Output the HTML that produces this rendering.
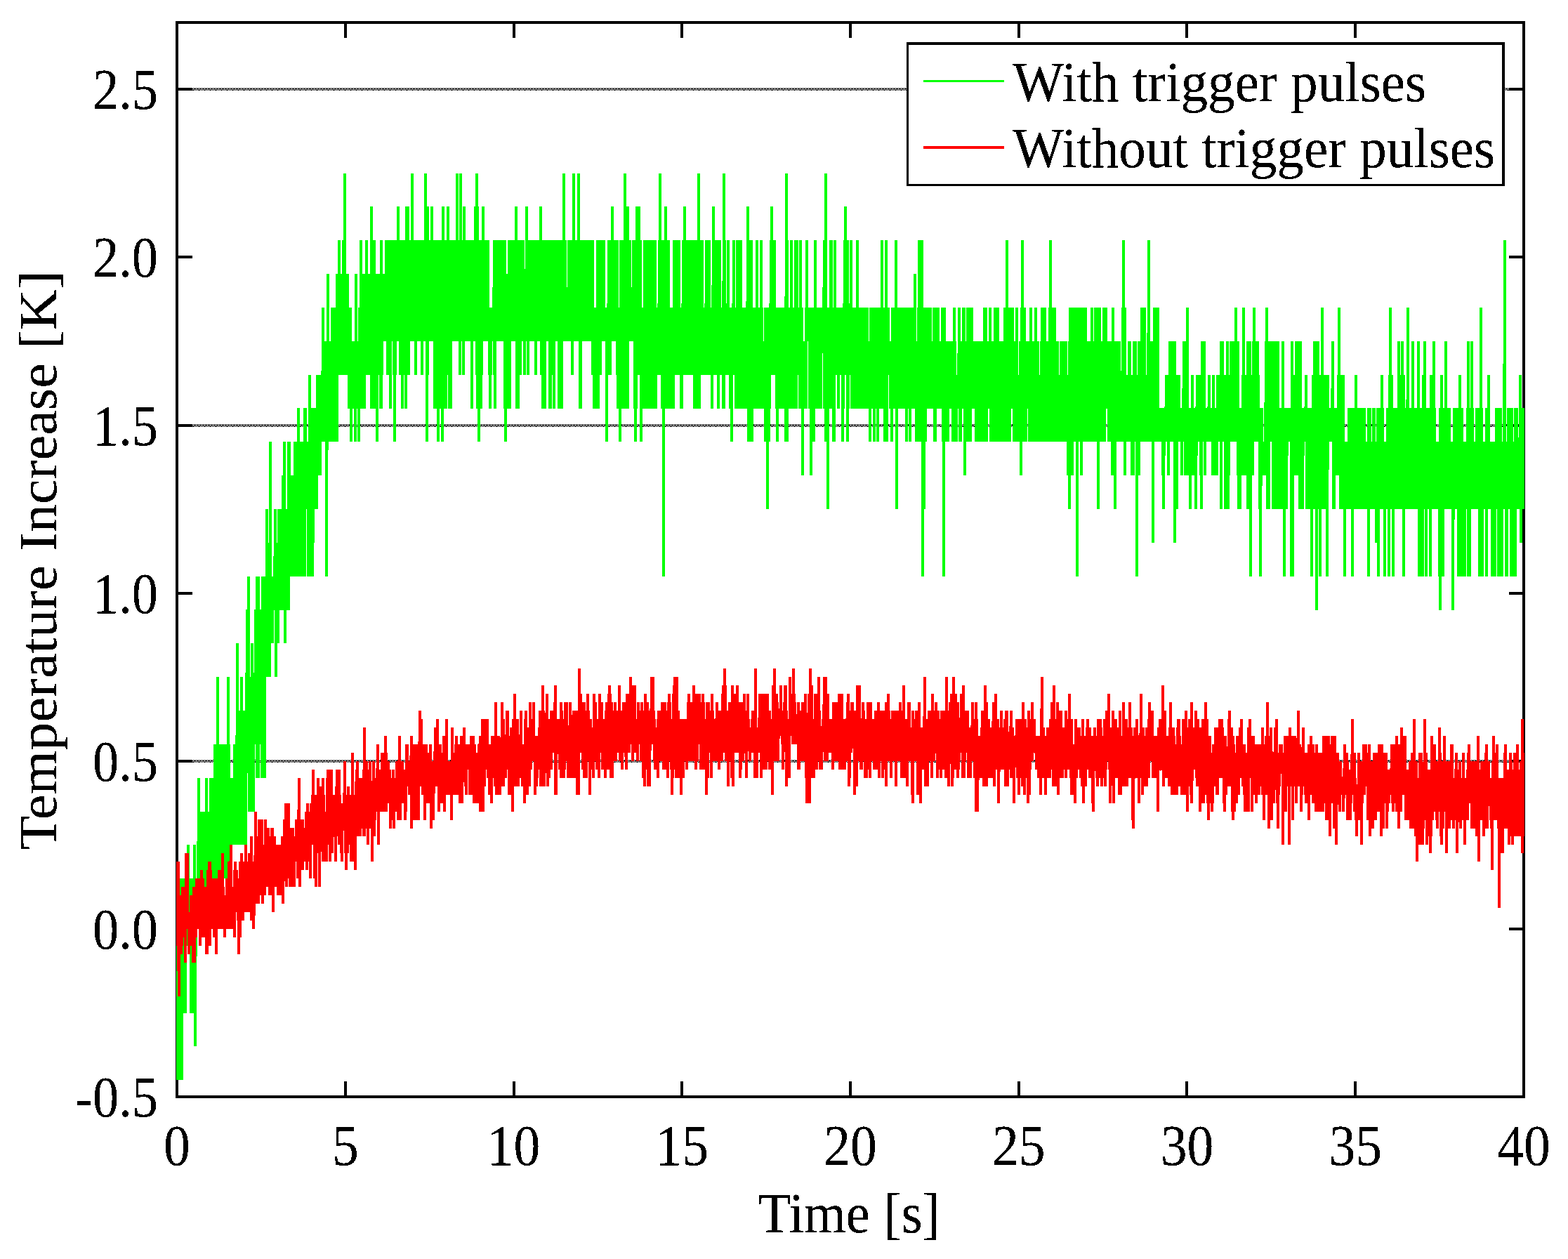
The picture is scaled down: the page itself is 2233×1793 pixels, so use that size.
<!DOCTYPE html>
<html lang="en">
<head>
<meta charset="utf-8">
<title>Temperature increase with and without trigger pulses</title>
<style>
html,body{margin:0;padding:0;background:#fff;}
body{width:2233px;height:1793px;}
svg{display:block;}
text{font-family:"Liberation Serif","DejaVu Serif",serif;font-size:80px;fill:#000;filter:url(#crisp);}
.ax{stroke:#000;stroke-width:4;fill:none;shape-rendering:crispEdges;}
.tr{fill:none;stroke-width:4;stroke-linejoin:bevel;stroke-linecap:butt;shape-rendering:crispEdges;}
</style>
</head>
<body>
<svg width="2233" height="1793" viewBox="0 0 2233 1793">
<defs>
<pattern id="dots" x="275" y="125" width="8" height="4" patternUnits="userSpaceOnUse">
<path shape-rendering="crispEdges" fill="#000" d="M0,0h1v1h-1z M2,0h1v1h-1z M4,0h1v1h-1z M6,0h1v1h-1z M1,1h3v1h-3z M5,1h3v1h-3z M0,2h1v1h-1z M2,2h1v1h-1z M4,2h1v1h-1z M6,2h1v1h-1z M0,3h2v1h-2z M3,3h1v1h-1z M5,3h1v1h-1z M7,3h1v1h-1z"/>
</pattern>
<filter id="crisp" x="-5%" y="-5%" width="110%" height="110%" color-interpolation-filters="sRGB"><feComponentTransfer><feFuncA type="discrete" tableValues="0 0 1 1 1"/></feComponentTransfer></filter>
<clipPath id="plotclip"><rect x="251" y="34" width="1920" height="1526"/></clipPath>
</defs>
<rect x="0" y="0" width="2233" height="1793" fill="#fff"/>
<g id="grid">
<g transform="translate(0,0)"><rect x="274" y="125" width="1875" height="4" fill="url(#dots)" shape-rendering="crispEdges"/></g>
<g transform="translate(0,479)"><rect x="274" y="125" width="1875" height="4" fill="url(#dots)" shape-rendering="crispEdges"/></g>
<g transform="translate(0,957)"><rect x="274" y="125" width="1875" height="4" fill="url(#dots)" shape-rendering="crispEdges"/></g>
</g>
<g id="axes" class="ax">
<rect x="252" y="32" width="1918" height="1530"/>
<path d="M254,127 H274 M2149,127 H2168 M254,366 H274 M2149,366 H2168 M254,606 H274 M2149,606 H2168 M254,845 H274 M2149,845 H2168 M254,1084 H274 M2149,1084 H2168 M254,1323 H274 M2149,1323 H2168 M492,34 V54 M492,1540 V1560 M732,34 V54 M732,1540 V1560 M971,34 V54 M971,1540 V1560 M1211,34 V54 M1211,1540 V1560 M1451,34 V54 M1451,1540 V1560 M1690,34 V54 M1690,1540 V1560 M1930,34 V54 M1930,1540 V1560"/>
</g>
<g id="traces" clip-path="url(#plotclip)">
<polyline id="with-trigger" class="tr" stroke="#00ff00" points="250.8,1251.2 251.2,1538.3 251.8,1251.2 252.2,1538.3 252.8,1251.2 253.2,1538.3 253.8,1251.2 254.2,1538.3 254.8,1251.2 255.2,1538.3 255.8,1251.2 256.2,1538.3 256.8,1251.2 257.2,1538.3 257.8,1251.2 258.2,1538.3 258.8,1251.2 259.2,1538.3 259.8,1251.2 260.2,1442.6 260.8,1251.2 261.2,1442.6 261.8,1251.2 262.2,1442.6 262.8,1251.2 263.2,1442.6 263.8,1251.2 264.2,1442.6 264.8,1251.2 265.2,1346.9 265.8,1251.2 266.2,1346.9 266.8,1251.2 267.2,1346.9 267.8,1203.4 268.2,1346.9 268.8,1251.2 269.2,1346.9 269.8,1251.2 270.2,1346.9 270.8,1251.2 271.2,1346.9 271.8,1251.2 272.2,1442.6 272.8,1251.2 273.2,1442.6 273.8,1251.2 274.2,1442.6 274.8,1251.2 275.2,1442.6 275.8,1251.2 276.2,1442.6 276.8,1203.4 277.2,1442.6 277.8,1251.2 278.2,1490.4 278.8,1251.2 279.2,1299.1 279.8,1251.2 280.2,1299.1 280.8,1251.2 281.2,1299.1 281.8,1251.2 282.2,1299.1 282.8,1107.7 283.2,1299.1 283.8,1155.6 284.2,1299.1 284.8,1155.6 285.2,1299.1 285.8,1155.6 286.2,1299.1 286.8,1155.6 287.2,1299.1 287.8,1155.6 288.2,1299.1 288.8,1155.6 289.2,1299.1 289.8,1155.6 290.2,1299.1 290.8,1155.6 291.2,1299.1 291.8,1155.6 292.2,1299.1 292.8,1155.6 293.2,1299.1 293.8,1107.7 294.2,1299.1 294.8,1155.6 295.2,1299.1 295.8,1155.6 296.2,1299.1 296.8,1155.6 297.2,1299.1 297.8,1155.6 298.2,1299.1 298.8,1155.6 299.2,1251.2 299.8,1107.7 300.2,1251.2 300.8,1107.7 301.2,1251.2 301.8,1107.7 302.2,1251.2 302.8,1107.7 303.2,1251.2 303.8,1107.7 304.2,1251.2 304.8,1107.7 305.2,1251.2 305.8,1059.9 306.2,1251.2 306.8,1059.9 307.2,1251.2 307.8,1059.9 308.2,1251.2 308.8,1059.9 309.2,1251.2 309.8,964.2 310.2,1251.2 310.8,1059.9 311.2,1251.2 311.8,1059.9 312.2,1251.2 312.8,1059.9 313.2,1251.2 313.8,1059.9 314.2,1251.2 314.8,1059.9 315.2,1251.2 315.8,1059.9 316.2,1251.2 316.8,1059.9 317.2,1251.2 317.8,1059.9 318.2,1251.2 318.8,1059.9 319.2,1251.2 319.8,1059.9 320.2,1251.2 320.8,1059.9 321.2,1251.2 321.8,1059.9 322.2,1251.2 322.8,1059.9 323.2,1251.2 323.8,1059.9 324.2,1251.2 324.8,964.2 325.2,1251.2 325.8,1059.9 326.2,1251.2 326.8,1107.7 327.2,1251.2 327.8,1107.7 328.2,1251.2 328.8,1107.7 329.2,1203.4 329.8,1107.7 330.2,1203.4 330.8,1107.7 331.2,1203.4 331.8,1107.7 332.2,1203.4 332.8,1107.7 333.2,1203.4 333.8,1059.9 334.2,1203.4 334.8,1059.9 335.2,1203.4 335.8,1059.9 336.2,1203.4 336.8,1059.9 337.2,1203.4 337.8,916.4 338.2,1203.4 338.8,1012 339.2,1203.4 339.8,1012 340.2,1203.4 340.8,1012 341.2,1203.4 341.8,1012 342.2,1203.4 342.8,1012 343.2,1203.4 343.8,964.2 344.2,1203.4 344.8,1012 345.2,1203.4 345.8,1012 346.2,1203.4 346.8,1012 347.2,1203.4 347.8,1012 348.2,1203.4 348.8,1012 349.2,1203.4 349.8,1012 350.2,1203.4 350.8,1012 351.2,1059.9 351.8,868.5 352.2,1059.9 352.8,868.5 353.2,1059.9 353.8,820.7 354.2,1059.9 354.8,964.2 355.2,1155.6 355.8,964.2 356.2,1155.6 356.8,964.2 357.2,1155.6 357.8,964.2 358.2,1155.6 358.8,916.4 359.2,1155.6 359.8,964.2 360.2,1155.6 360.8,964.2 361.2,1155.6 361.8,964.2 362.2,1059.9 362.8,964.2 363.2,1059.9 363.8,868.5 364.2,1059.9 364.8,868.5 365.2,1059.9 365.8,820.7 366.2,1107.7 366.8,820.7 367.2,1107.7 367.8,820.7 368.2,1107.7 368.8,868.5 369.2,1059.9 369.8,868.5 370.2,1059.9 370.8,868.5 371.2,1059.9 371.8,868.5 372.2,1059.9 372.8,868.5 373.2,1107.7 373.8,820.7 374.2,1107.7 374.8,820.7 375.2,1107.7 375.8,820.7 376.2,1107.7 376.8,820.7 377.2,1107.7 377.8,820.7 378.2,964.2 378.8,820.7 379.2,964.2 379.8,725 380.2,964.2 380.8,772.8 381.2,964.2 381.8,772.8 382.2,964.2 382.8,772.8 383.2,964.2 383.8,772.8 384.2,964.2 384.8,629.3 385.2,916.4 385.8,820.7 386.2,916.4 386.8,820.7 387.2,916.4 387.8,820.7 388.2,916.4 388.8,820.7 389.2,868.5 389.8,820.7 390.2,868.5 390.8,820.7 391.2,868.5 391.8,725 392.2,868.5 392.8,772.8 393.2,964.2 393.8,772.8 394.2,916.4 394.8,772.8 395.2,916.4 395.8,772.8 396.2,916.4 396.8,725 397.2,868.5 397.8,725 398.2,868.5 398.8,725 399.2,868.5 399.8,725 400.2,868.5 400.8,725 401.2,868.5 401.8,725 402.2,868.5 402.8,677.2 403.2,868.5 403.8,677.2 404.2,868.5 404.8,629.3 405.2,868.5 405.8,725 406.2,916.4 406.8,725 407.2,868.5 407.8,725 408.2,868.5 408.8,725 409.2,868.5 409.8,725 410.2,868.5 410.8,629.3 411.2,868.5 411.8,629.3 412.2,820.7 412.8,677.2 413.2,820.7 413.8,677.2 414.2,820.7 414.8,677.2 415.2,820.7 415.8,677.2 416.2,820.7 416.8,677.2 417.2,820.7 417.8,677.2 418.2,820.7 418.8,677.2 419.2,820.7 419.8,629.3 420.2,820.7 420.8,629.3 421.2,820.7 421.8,629.3 422.2,820.7 422.8,629.3 423.2,820.7 423.8,629.3 424.2,820.7 424.8,581.5 425.2,820.7 425.8,629.3 426.2,820.7 426.8,629.3 427.2,820.7 427.8,629.3 428.2,820.7 428.8,629.3 429.2,820.7 429.8,629.3 430.2,820.7 430.8,629.3 431.2,820.7 431.8,629.3 432.2,820.7 432.8,629.3 433.2,820.7 433.8,581.5 434.2,820.7 434.8,581.5 435.2,725 435.8,629.3 436.2,725 436.8,629.3 437.2,725 437.8,629.3 438.2,725 438.8,629.3 439.2,820.7 439.8,629.3 440.2,820.7 440.8,533.6 441.2,820.7 441.8,581.5 442.2,820.7 442.8,581.5 443.2,820.7 443.8,581.5 444.2,820.7 444.8,581.5 445.2,820.7 445.8,581.5 446.2,772.8 446.8,581.5 447.2,725 447.8,581.5 448.2,725 448.8,581.5 449.2,725 449.8,581.5 450.2,725 450.8,581.5 451.2,725 451.8,533.6 452.2,677.2 452.8,533.6 453.2,677.2 453.8,533.6 454.2,677.2 454.8,533.6 455.2,677.2 455.8,533.6 456.2,677.2 456.8,533.6 457.2,629.3 457.8,533.6 458.2,629.3 458.8,533.6 459.2,629.3 459.8,438 460.2,629.3 460.8,485.8 461.2,629.3 461.8,485.8 462.2,629.3 462.8,485.8 463.2,629.3 463.8,485.8 464.2,629.3 464.8,485.8 465.2,820.7 465.8,485.8 466.2,629.3 466.8,390.1 467.2,629.3 467.8,485.8 468.2,629.3 468.8,485.8 469.2,629.3 469.8,485.8 470.2,629.3 470.8,485.8 471.2,629.3 471.8,485.8 472.2,629.3 472.8,438 473.2,629.3 473.8,438 474.2,629.3 474.8,438 475.2,629.3 475.8,438 476.2,629.3 476.8,438 477.2,629.3 477.8,438 478.2,629.3 478.8,438 479.2,629.3 479.8,390.1 480.2,629.3 480.8,390.1 481.2,533.6 481.8,390.1 482.2,533.6 482.8,342.3 483.2,533.6 483.8,390.1 484.2,533.6 484.8,390.1 485.2,533.6 485.8,390.1 486.2,533.6 486.8,390.1 487.2,533.6 487.8,390.1 488.2,533.6 488.8,342.3 489.2,533.6 489.8,342.3 490.2,533.6 490.8,246.6 491.2,533.6 491.8,390.1 492.2,533.6 492.8,390.1 493.2,533.6 493.8,390.1 494.2,533.6 494.8,390.1 495.2,533.6 495.8,438 496.2,533.6 496.8,438 497.2,581.5 497.8,438 498.2,581.5 498.8,438 499.2,581.5 499.8,485.8 500.2,629.3 500.8,485.8 501.2,581.5 501.8,485.8 502.2,581.5 502.8,485.8 503.2,581.5 503.8,485.8 504.2,581.5 504.8,485.8 505.2,581.5 505.8,485.8 506.2,629.3 506.8,390.1 507.2,581.5 507.8,485.8 508.2,581.5 508.8,485.8 509.2,581.5 509.8,485.8 510.2,581.5 510.8,485.8 511.2,629.3 511.8,438 512.2,581.5 512.8,438 513.2,581.5 513.8,342.3 514.2,581.5 514.8,390.1 515.2,581.5 515.8,390.1 516.2,581.5 516.8,390.1 517.2,581.5 517.8,390.1 518.2,581.5 518.8,390.1 519.2,581.5 519.8,390.1 520.2,533.6 520.8,390.1 521.2,533.6 521.8,342.3 522.2,533.6 522.8,390.1 523.2,533.6 523.8,390.1 524.2,533.6 524.8,390.1 525.2,533.6 525.8,390.1 526.2,533.6 526.8,390.1 527.2,533.6 527.8,390.1 528.2,533.6 528.8,294.4 529.2,581.5 529.8,342.3 530.2,581.5 530.8,342.3 531.2,581.5 531.8,342.3 532.2,581.5 532.8,342.3 533.2,581.5 533.8,390.1 534.2,581.5 534.8,390.1 535.2,581.5 535.8,390.1 536.2,581.5 536.8,390.1 537.2,629.3 537.8,390.1 538.2,533.6 538.8,390.1 539.2,533.6 539.8,390.1 540.2,533.6 540.8,390.1 541.2,533.6 541.8,390.1 542.2,581.5 542.8,342.3 543.2,581.5 543.8,390.1 544.2,533.6 544.8,390.1 545.2,485.8 545.8,390.1 546.2,485.8 546.8,390.1 547.2,485.8 547.8,390.1 548.2,485.8 548.8,390.1 549.2,485.8 549.8,342.3 550.2,485.8 550.8,342.3 551.2,485.8 551.8,342.3 552.2,533.6 552.8,342.3 553.2,533.6 553.8,342.3 554.2,533.6 554.8,342.3 555.2,533.6 555.8,342.3 556.2,581.5 556.8,342.3 557.2,485.8 557.8,342.3 558.2,485.8 558.8,342.3 559.2,485.8 559.8,342.3 560.2,485.8 560.8,342.3 561.2,533.6 561.8,342.3 562.2,629.3 562.8,342.3 563.2,533.6 563.8,342.3 564.2,485.8 564.8,342.3 565.2,485.8 565.8,342.3 566.2,485.8 566.8,294.4 567.2,485.8 567.8,342.3 568.2,485.8 568.8,342.3 569.2,485.8 569.8,342.3 570.2,533.6 570.8,342.3 571.2,533.6 571.8,342.3 572.2,533.6 572.8,342.3 573.2,581.5 573.8,342.3 574.2,533.6 574.8,342.3 575.2,533.6 575.8,342.3 576.2,533.6 576.8,342.3 577.2,533.6 577.8,342.3 578.2,581.5 578.8,294.4 579.2,533.6 579.8,294.4 580.2,533.6 580.8,294.4 581.2,533.6 581.8,342.3 582.2,533.6 582.8,342.3 583.2,485.8 583.8,342.3 584.2,485.8 584.8,342.3 585.2,485.8 585.8,342.3 586.2,485.8 586.8,246.6 587.2,485.8 587.8,342.3 588.2,485.8 588.8,342.3 589.2,485.8 589.8,342.3 590.2,485.8 590.8,342.3 591.2,485.8 591.8,342.3 592.2,533.6 592.8,342.3 593.2,485.8 593.8,342.3 594.2,485.8 594.8,342.3 595.2,485.8 595.8,342.3 596.2,485.8 596.8,342.3 597.2,485.8 597.8,342.3 598.2,485.8 598.8,342.3 599.2,485.8 599.8,342.3 600.2,485.8 600.8,342.3 601.2,533.6 601.8,342.3 602.2,485.8 602.8,342.3 603.2,485.8 603.8,342.3 604.2,485.8 604.8,342.3 605.2,485.8 605.8,246.6 606.2,485.8 606.8,294.4 607.2,485.8 607.8,294.4 608.2,629.3 608.8,294.4 609.2,533.6 609.8,342.3 610.2,485.8 610.8,342.3 611.2,485.8 611.8,342.3 612.2,485.8 612.8,342.3 613.2,485.8 613.8,342.3 614.2,485.8 614.8,294.4 615.2,485.8 615.8,342.3 616.2,485.8 616.8,342.3 617.2,485.8 617.8,342.3 618.2,485.8 618.8,342.3 619.2,581.5 619.8,342.3 620.2,581.5 620.8,342.3 621.2,581.5 621.8,342.3 622.2,581.5 622.8,342.3 623.2,581.5 623.8,342.3 624.2,629.3 624.8,342.3 625.2,581.5 625.8,342.3 626.2,581.5 626.8,342.3 627.2,581.5 627.8,342.3 628.2,581.5 628.8,342.3 629.2,581.5 629.8,342.3 630.2,629.3 630.8,294.4 631.2,581.5 631.8,342.3 632.2,581.5 632.8,342.3 633.2,581.5 633.8,342.3 634.2,581.5 634.8,342.3 635.2,581.5 635.8,342.3 636.2,533.6 636.8,342.3 637.2,533.6 637.8,294.4 638.2,533.6 638.8,342.3 639.2,533.6 639.8,342.3 640.2,581.5 640.8,342.3 641.2,581.5 641.8,342.3 642.2,581.5 642.8,342.3 643.2,485.8 643.8,342.3 644.2,485.8 644.8,342.3 645.2,485.8 645.8,342.3 646.2,485.8 646.8,342.3 647.2,485.8 647.8,342.3 648.2,485.8 648.8,342.3 649.2,485.8 649.8,342.3 650.2,485.8 650.8,246.6 651.2,485.8 651.8,342.3 652.2,485.8 652.8,342.3 653.2,485.8 653.8,342.3 654.2,485.8 654.8,342.3 655.2,533.6 655.8,246.6 656.2,485.8 656.8,342.3 657.2,485.8 657.8,342.3 658.2,485.8 658.8,342.3 659.2,485.8 659.8,342.3 660.2,533.6 660.8,294.4 661.2,485.8 661.8,342.3 662.2,485.8 662.8,342.3 663.2,485.8 663.8,342.3 664.2,485.8 664.8,342.3 665.2,485.8 665.8,342.3 666.2,485.8 666.8,342.3 667.2,485.8 667.8,342.3 668.2,485.8 668.8,342.3 669.2,485.8 669.8,342.3 670.2,485.8 670.8,342.3 671.2,485.8 671.8,342.3 672.2,581.5 672.8,342.3 673.2,485.8 673.8,342.3 674.2,485.8 674.8,342.3 675.2,485.8 675.8,342.3 676.2,485.8 676.8,294.4 677.2,485.8 677.8,294.4 678.2,485.8 678.8,246.6 679.2,533.6 679.8,294.4 680.2,581.5 680.8,342.3 681.2,581.5 681.8,342.3 682.2,629.3 682.8,342.3 683.2,581.5 683.8,342.3 684.2,581.5 684.8,342.3 685.2,581.5 685.8,342.3 686.2,533.6 686.8,342.3 687.2,485.8 687.8,294.4 688.2,485.8 688.8,342.3 689.2,485.8 689.8,342.3 690.2,485.8 690.8,342.3 691.2,485.8 691.8,342.3 692.2,485.8 692.8,342.3 693.2,485.8 693.8,342.3 694.2,485.8 694.8,342.3 695.2,485.8 695.8,438 696.2,485.8 696.8,438 697.2,533.6 697.8,438 698.2,581.5 698.8,438 699.2,533.6 699.8,438 700.2,485.8 700.8,438 701.2,485.8 701.8,438 702.2,485.8 702.8,438 703.2,485.8 703.8,342.3 704.2,533.6 704.8,342.3 705.2,581.5 705.8,342.3 706.2,485.8 706.8,342.3 707.2,485.8 707.8,342.3 708.2,485.8 708.8,342.3 709.2,485.8 709.8,342.3 710.2,485.8 710.8,342.3 711.2,485.8 711.8,342.3 712.2,485.8 712.8,342.3 713.2,485.8 713.8,342.3 714.2,485.8 714.8,342.3 715.2,485.8 715.8,342.3 716.2,485.8 716.8,342.3 717.2,485.8 717.8,342.3 718.2,485.8 718.8,342.3 719.2,581.5 719.8,390.1 720.2,629.3 720.8,390.1 721.2,581.5 721.8,390.1 722.2,581.5 722.8,390.1 723.2,581.5 723.8,390.1 724.2,581.5 724.8,342.3 725.2,581.5 725.8,342.3 726.2,581.5 726.8,342.3 727.2,485.8 727.8,342.3 728.2,485.8 728.8,342.3 729.2,485.8 729.8,342.3 730.2,485.8 730.8,342.3 731.2,485.8 731.8,342.3 732.2,485.8 732.8,342.3 733.2,485.8 733.8,342.3 734.2,485.8 734.8,294.4 735.2,485.8 735.8,342.3 736.2,581.5 736.8,342.3 737.2,581.5 737.8,342.3 738.2,581.5 738.8,342.3 739.2,533.6 739.8,342.3 740.2,533.6 740.8,342.3 741.2,533.6 741.8,342.3 742.2,485.8 742.8,342.3 743.2,485.8 743.8,342.3 744.2,485.8 744.8,342.3 745.2,485.8 745.8,438 746.2,485.8 746.8,438 747.2,533.6 747.8,438 748.2,485.8 748.8,438 749.2,485.8 749.8,294.4 750.2,485.8 750.8,342.3 751.2,485.8 751.8,342.3 752.2,533.6 752.8,342.3 753.2,485.8 753.8,342.3 754.2,485.8 754.8,342.3 755.2,485.8 755.8,342.3 756.2,485.8 756.8,342.3 757.2,485.8 757.8,342.3 758.2,485.8 758.8,342.3 759.2,485.8 759.8,342.3 760.2,485.8 760.8,342.3 761.2,485.8 761.8,342.3 762.2,485.8 762.8,342.3 763.2,533.6 763.8,342.3 764.2,485.8 764.8,342.3 765.2,485.8 765.8,342.3 766.2,485.8 766.8,342.3 767.2,485.8 767.8,342.3 768.2,485.8 768.8,342.3 769.2,485.8 769.8,294.4 770.2,485.8 770.8,342.3 771.2,533.6 771.8,342.3 772.2,533.6 772.8,342.3 773.2,581.5 773.8,342.3 774.2,581.5 774.8,342.3 775.2,581.5 775.8,342.3 776.2,581.5 776.8,342.3 777.2,485.8 777.8,342.3 778.2,485.8 778.8,342.3 779.2,485.8 779.8,342.3 780.2,485.8 780.8,342.3 781.2,485.8 781.8,342.3 782.2,485.8 782.8,342.3 783.2,581.5 783.8,342.3 784.2,581.5 784.8,342.3 785.2,533.6 785.8,342.3 786.2,533.6 786.8,342.3 787.2,533.6 787.8,342.3 788.2,533.6 788.8,342.3 789.2,581.5 789.8,342.3 790.2,485.8 790.8,342.3 791.2,485.8 791.8,342.3 792.2,485.8 792.8,342.3 793.2,485.8 793.8,342.3 794.2,485.8 794.8,342.3 795.2,485.8 795.8,342.3 796.2,581.5 796.8,342.3 797.2,581.5 797.8,342.3 798.2,581.5 798.8,342.3 799.2,581.5 799.8,342.3 800.2,581.5 800.8,342.3 801.2,485.8 801.8,342.3 802.2,485.8 802.8,246.6 803.2,485.8 803.8,342.3 804.2,485.8 804.8,342.3 805.2,485.8 805.8,438 806.2,485.8 806.8,438 807.2,485.8 807.8,438 808.2,485.8 808.8,438 809.2,485.8 809.8,342.3 810.2,485.8 810.8,342.3 811.2,485.8 811.8,342.3 812.2,485.8 812.8,342.3 813.2,485.8 813.8,342.3 814.2,485.8 814.8,342.3 815.2,533.6 815.8,342.3 816.2,485.8 816.8,246.6 817.2,485.8 817.8,342.3 818.2,485.8 818.8,342.3 819.2,485.8 819.8,342.3 820.2,485.8 820.8,342.3 821.2,485.8 821.8,342.3 822.2,485.8 822.8,342.3 823.2,485.8 823.8,246.6 824.2,485.8 824.8,342.3 825.2,485.8 825.8,342.3 826.2,581.5 826.8,342.3 827.2,581.5 827.8,342.3 828.2,485.8 828.8,342.3 829.2,485.8 829.8,342.3 830.2,485.8 830.8,342.3 831.2,485.8 831.8,342.3 832.2,485.8 832.8,342.3 833.2,485.8 833.8,342.3 834.2,485.8 834.8,342.3 835.2,485.8 835.8,342.3 836.2,485.8 836.8,342.3 837.2,485.8 837.8,342.3 838.2,485.8 838.8,342.3 839.2,485.8 839.8,342.3 840.2,485.8 840.8,342.3 841.2,485.8 841.8,342.3 842.2,485.8 842.8,342.3 843.2,485.8 843.8,342.3 844.2,533.6 844.8,438 845.2,533.6 845.8,438 846.2,581.5 846.8,438 847.2,581.5 847.8,438 848.2,581.5 848.8,438 849.2,581.5 849.8,438 850.2,581.5 850.8,342.3 851.2,581.5 851.8,342.3 852.2,581.5 852.8,342.3 853.2,533.6 853.8,342.3 854.2,533.6 854.8,342.3 855.2,533.6 855.8,342.3 856.2,485.8 856.8,342.3 857.2,485.8 857.8,342.3 858.2,485.8 858.8,342.3 859.2,485.8 859.8,342.3 860.2,485.8 860.8,438 861.2,485.8 861.8,438 862.2,485.8 862.8,438 863.2,485.8 863.8,438 864.2,629.3 864.8,438 865.2,533.6 865.8,438 866.2,533.6 866.8,342.3 867.2,533.6 867.8,342.3 868.2,533.6 868.8,342.3 869.2,533.6 869.8,342.3 870.2,485.8 870.8,342.3 871.2,485.8 871.8,294.4 872.2,485.8 872.8,342.3 873.2,485.8 873.8,342.3 874.2,485.8 874.8,342.3 875.2,485.8 875.8,342.3 876.2,485.8 876.8,342.3 877.2,485.8 877.8,342.3 878.2,485.8 878.8,342.3 879.2,533.6 879.8,438 880.2,581.5 880.8,438 881.2,581.5 881.8,438 882.2,581.5 882.8,438 883.2,629.3 883.8,342.3 884.2,581.5 884.8,342.3 885.2,581.5 885.8,342.3 886.2,581.5 886.8,342.3 887.2,581.5 887.8,342.3 888.2,581.5 888.8,342.3 889.2,581.5 889.8,246.6 890.2,581.5 890.8,294.4 891.2,581.5 891.8,294.4 892.2,581.5 892.8,294.4 893.2,581.5 893.8,294.4 894.2,581.5 894.8,342.3 895.2,485.8 895.8,342.3 896.2,485.8 896.8,342.3 897.2,485.8 897.8,438 898.2,485.8 898.8,438 899.2,485.8 899.8,438 900.2,485.8 900.8,438 901.2,485.8 901.8,342.3 902.2,485.8 902.8,342.3 903.2,485.8 903.8,342.3 904.2,581.5 904.8,342.3 905.2,629.3 905.8,342.3 906.2,581.5 906.8,294.4 907.2,533.6 907.8,294.4 908.2,533.6 908.8,294.4 909.2,533.6 909.8,294.4 910.2,533.6 910.8,342.3 911.2,533.6 911.8,342.3 912.2,533.6 912.8,438 913.2,629.3 913.8,438 914.2,581.5 914.8,438 915.2,581.5 915.8,438 916.2,581.5 916.8,438 917.2,581.5 917.8,342.3 918.2,581.5 918.8,342.3 919.2,581.5 919.8,342.3 920.2,581.5 920.8,342.3 921.2,581.5 921.8,342.3 922.2,581.5 922.8,342.3 923.2,581.5 923.8,342.3 924.2,581.5 924.8,342.3 925.2,581.5 925.8,342.3 926.2,581.5 926.8,342.3 927.2,581.5 927.8,342.3 928.2,581.5 928.8,342.3 929.2,581.5 929.8,342.3 930.2,581.5 930.8,342.3 931.2,581.5 931.8,342.3 932.2,581.5 932.8,342.3 933.2,581.5 933.8,438 934.2,581.5 934.8,438 935.2,533.6 935.8,438 936.2,533.6 936.8,438 937.2,533.6 937.8,438 938.2,533.6 938.8,342.3 939.2,533.6 939.8,246.6 940.2,533.6 940.8,342.3 941.2,533.6 941.8,342.3 942.2,533.6 942.8,342.3 943.2,581.5 943.8,342.3 944.2,581.5 944.8,342.3 945.2,820.7 945.8,342.3 946.2,581.5 946.8,342.3 947.2,581.5 947.8,294.4 948.2,581.5 948.8,342.3 949.2,581.5 949.8,342.3 950.2,581.5 950.8,342.3 951.2,581.5 951.8,342.3 952.2,581.5 952.8,438 953.2,581.5 953.8,438 954.2,581.5 954.8,438 955.2,581.5 955.8,438 956.2,581.5 956.8,438 957.2,581.5 957.8,438 958.2,581.5 958.8,438 959.2,581.5 959.8,342.3 960.2,533.6 960.8,342.3 961.2,533.6 961.8,342.3 962.2,533.6 962.8,342.3 963.2,533.6 963.8,342.3 964.2,533.6 964.8,342.3 965.2,533.6 965.8,342.3 966.2,533.6 966.8,342.3 967.2,533.6 967.8,438 968.2,533.6 968.8,438 969.2,533.6 969.8,438 970.2,581.5 970.8,438 971.2,581.5 971.8,438 972.2,533.6 972.8,342.3 973.2,533.6 973.8,342.3 974.2,533.6 974.8,294.4 975.2,533.6 975.8,342.3 976.2,533.6 976.8,342.3 977.2,533.6 977.8,342.3 978.2,533.6 978.8,342.3 979.2,533.6 979.8,342.3 980.2,533.6 980.8,342.3 981.2,533.6 981.8,342.3 982.2,533.6 982.8,342.3 983.2,533.6 983.8,342.3 984.2,533.6 984.8,342.3 985.2,533.6 985.8,342.3 986.2,533.6 986.8,342.3 987.2,533.6 987.8,342.3 988.2,533.6 988.8,342.3 989.2,581.5 989.8,342.3 990.2,581.5 990.8,342.3 991.2,581.5 991.8,342.3 992.2,581.5 992.8,342.3 993.2,581.5 993.8,342.3 994.2,581.5 994.8,246.6 995.2,581.5 995.8,342.3 996.2,581.5 996.8,342.3 997.2,533.6 997.8,342.3 998.2,533.6 998.8,342.3 999.2,533.6 999.8,342.3 1000.2,533.6 1000.8,438 1001.2,533.6 1001.8,438 1002.2,533.6 1002.8,438 1003.2,533.6 1003.8,438 1004.2,533.6 1004.8,438 1005.2,533.6 1005.8,342.3 1006.2,533.6 1006.8,342.3 1007.2,533.6 1007.8,342.3 1008.2,533.6 1008.8,342.3 1009.2,533.6 1009.8,342.3 1010.2,533.6 1010.8,438 1011.2,533.6 1011.8,438 1012.2,533.6 1012.8,438 1013.2,533.6 1013.8,438 1014.2,581.5 1014.8,438 1015.2,533.6 1015.8,294.4 1016.2,533.6 1016.8,342.3 1017.2,533.6 1017.8,342.3 1018.2,533.6 1018.8,342.3 1019.2,533.6 1019.8,342.3 1020.2,533.6 1020.8,342.3 1021.2,533.6 1021.8,342.3 1022.2,533.6 1022.8,342.3 1023.2,581.5 1023.8,342.3 1024.2,533.6 1024.8,342.3 1025.2,533.6 1025.8,438 1026.2,533.6 1026.8,438 1027.2,533.6 1027.8,438 1028.2,533.6 1028.8,438 1029.2,533.6 1029.8,438 1030.2,581.5 1030.8,246.6 1031.2,581.5 1031.8,342.3 1032.2,533.6 1032.8,438 1033.2,533.6 1033.8,438 1034.2,533.6 1034.8,438 1035.2,533.6 1035.8,438 1036.2,533.6 1036.8,342.3 1037.2,533.6 1037.8,438 1038.2,533.6 1038.8,438 1039.2,533.6 1039.8,438 1040.2,581.5 1040.8,438 1041.2,581.5 1041.8,438 1042.2,629.3 1042.8,438 1043.2,533.6 1043.8,438 1044.2,533.6 1044.8,342.3 1045.2,533.6 1045.8,438 1046.2,533.6 1046.8,438 1047.2,533.6 1047.8,438 1048.2,581.5 1048.8,438 1049.2,581.5 1049.8,342.3 1050.2,581.5 1050.8,342.3 1051.2,581.5 1051.8,342.3 1052.2,581.5 1052.8,342.3 1053.2,581.5 1053.8,342.3 1054.2,581.5 1054.8,342.3 1055.2,581.5 1055.8,438 1056.2,581.5 1056.8,438 1057.2,581.5 1057.8,438 1058.2,581.5 1058.8,438 1059.2,581.5 1059.8,438 1060.2,581.5 1060.8,438 1061.2,581.5 1061.8,438 1062.2,581.5 1062.8,438 1063.2,581.5 1063.8,438 1064.2,581.5 1064.8,294.4 1065.2,581.5 1065.8,342.3 1066.2,629.3 1066.8,342.3 1067.2,629.3 1067.8,342.3 1068.2,629.3 1068.8,342.3 1069.2,629.3 1069.8,342.3 1070.2,629.3 1070.8,438 1071.2,629.3 1071.8,438 1072.2,581.5 1072.8,438 1073.2,581.5 1073.8,438 1074.2,581.5 1074.8,438 1075.2,581.5 1075.8,438 1076.2,581.5 1076.8,438 1077.2,581.5 1077.8,342.3 1078.2,581.5 1078.8,438 1079.2,581.5 1079.8,438 1080.2,581.5 1080.8,438 1081.2,581.5 1081.8,438 1082.2,581.5 1082.8,438 1083.2,581.5 1083.8,342.3 1084.2,581.5 1084.8,438 1085.2,581.5 1085.8,485.8 1086.2,581.5 1086.8,485.8 1087.2,581.5 1087.8,485.8 1088.2,581.5 1088.8,485.8 1089.2,581.5 1089.8,438 1090.2,629.3 1090.8,438 1091.2,629.3 1091.8,438 1092.2,629.3 1092.8,438 1093.2,725 1093.8,438 1094.2,629.3 1094.8,438 1095.2,629.3 1095.8,438 1096.2,581.5 1096.8,438 1097.2,533.6 1097.8,342.3 1098.2,533.6 1098.8,294.4 1099.2,533.6 1099.8,342.3 1100.2,533.6 1100.8,342.3 1101.2,533.6 1101.8,342.3 1102.2,533.6 1102.8,342.3 1103.2,533.6 1103.8,438 1104.2,533.6 1104.8,438 1105.2,533.6 1105.8,438 1106.2,581.5 1106.8,438 1107.2,629.3 1107.8,438 1108.2,581.5 1108.8,438 1109.2,581.5 1109.8,438 1110.2,581.5 1110.8,438 1111.2,581.5 1111.8,438 1112.2,581.5 1112.8,438 1113.2,581.5 1113.8,438 1114.2,581.5 1114.8,438 1115.2,581.5 1115.8,438 1116.2,581.5 1116.8,438 1117.2,581.5 1117.8,438 1118.2,581.5 1118.8,438 1119.2,629.3 1119.8,246.6 1120.2,629.3 1120.8,342.3 1121.2,629.3 1121.8,438 1122.2,581.5 1122.8,438 1123.2,581.5 1123.8,438 1124.2,581.5 1124.8,438 1125.2,581.5 1125.8,438 1126.2,581.5 1126.8,342.3 1127.2,581.5 1127.8,438 1128.2,581.5 1128.8,438 1129.2,581.5 1129.8,438 1130.2,581.5 1130.8,438 1131.2,581.5 1131.8,438 1132.2,581.5 1132.8,342.3 1133.2,581.5 1133.8,342.3 1134.2,581.5 1134.8,342.3 1135.2,533.6 1135.8,438 1136.2,533.6 1136.8,438 1137.2,533.6 1137.8,438 1138.2,533.6 1138.8,438 1139.2,581.5 1139.8,342.3 1140.2,581.5 1140.8,438 1141.2,581.5 1141.8,438 1142.2,581.5 1142.8,485.8 1143.2,677.2 1143.8,485.8 1144.2,581.5 1144.8,485.8 1145.2,581.5 1145.8,485.8 1146.2,581.5 1146.8,485.8 1147.2,581.5 1147.8,438 1148.2,581.5 1148.8,342.3 1149.2,485.8 1149.8,438 1150.2,485.8 1150.8,438 1151.2,485.8 1151.8,438 1152.2,485.8 1152.8,438 1153.2,581.5 1153.8,438 1154.2,581.5 1154.8,438 1155.2,677.2 1155.8,438 1156.2,629.3 1156.8,438 1157.2,629.3 1157.8,438 1158.2,629.3 1158.8,438 1159.2,629.3 1159.8,438 1160.2,581.5 1160.8,342.3 1161.2,581.5 1161.8,438 1162.2,581.5 1162.8,438 1163.2,581.5 1163.8,438 1164.2,581.5 1164.8,438 1165.2,581.5 1165.8,438 1166.2,581.5 1166.8,438 1167.2,581.5 1167.8,438 1168.2,581.5 1168.8,438 1169.2,581.5 1169.8,438 1170.2,485.8 1170.8,438 1171.2,485.8 1171.8,438 1172.2,485.8 1172.8,438 1173.2,485.8 1173.8,342.3 1174.2,581.5 1174.8,342.3 1175.2,581.5 1175.8,246.6 1176.2,629.3 1176.8,438 1177.2,629.3 1177.8,438 1178.2,629.3 1178.8,438 1179.2,725 1179.8,438 1180.2,581.5 1180.8,438 1181.2,581.5 1181.8,438 1182.2,581.5 1182.8,342.3 1183.2,581.5 1183.8,342.3 1184.2,581.5 1184.8,438 1185.2,581.5 1185.8,438 1186.2,581.5 1186.8,438 1187.2,629.3 1187.8,438 1188.2,629.3 1188.8,342.3 1189.2,533.6 1189.8,438 1190.2,533.6 1190.8,438 1191.2,533.6 1191.8,438 1192.2,533.6 1192.8,438 1193.2,533.6 1193.8,438 1194.2,581.5 1194.8,438 1195.2,533.6 1195.8,438 1196.2,533.6 1196.8,438 1197.2,533.6 1197.8,438 1198.2,533.6 1198.8,438 1199.2,533.6 1199.8,438 1200.2,629.3 1200.8,438 1201.2,581.5 1201.8,438 1202.2,533.6 1202.8,342.3 1203.2,533.6 1203.8,294.4 1204.2,533.6 1204.8,342.3 1205.2,533.6 1205.8,342.3 1206.2,533.6 1206.8,342.3 1207.2,629.3 1207.8,438 1208.2,581.5 1208.8,438 1209.2,533.6 1209.8,438 1210.2,533.6 1210.8,438 1211.2,533.6 1211.8,342.3 1212.2,533.6 1212.8,438 1213.2,581.5 1213.8,438 1214.2,581.5 1214.8,438 1215.2,581.5 1215.8,438 1216.2,581.5 1216.8,438 1217.2,581.5 1217.8,438 1218.2,581.5 1218.8,438 1219.2,581.5 1219.8,438 1220.2,581.5 1220.8,342.3 1221.2,581.5 1221.8,438 1222.2,581.5 1222.8,438 1223.2,581.5 1223.8,438 1224.2,581.5 1224.8,438 1225.2,581.5 1225.8,438 1226.2,581.5 1226.8,438 1227.2,581.5 1227.8,438 1228.2,581.5 1228.8,438 1229.2,581.5 1229.8,438 1230.2,581.5 1230.8,438 1231.2,581.5 1231.8,438 1232.2,581.5 1232.8,438 1233.2,581.5 1233.8,438 1234.2,581.5 1234.8,438 1235.2,581.5 1235.8,485.8 1236.2,581.5 1236.8,485.8 1237.2,581.5 1237.8,485.8 1238.2,581.5 1238.8,485.8 1239.2,629.3 1239.8,438 1240.2,581.5 1240.8,438 1241.2,581.5 1241.8,438 1242.2,581.5 1242.8,438 1243.2,581.5 1243.8,438 1244.2,581.5 1244.8,438 1245.2,629.3 1245.8,438 1246.2,581.5 1246.8,438 1247.2,581.5 1247.8,438 1248.2,581.5 1248.8,438 1249.2,581.5 1249.8,438 1250.2,629.3 1250.8,438 1251.2,581.5 1251.8,438 1252.2,581.5 1252.8,438 1253.2,581.5 1253.8,438 1254.2,581.5 1254.8,438 1255.2,581.5 1255.8,342.3 1256.2,581.5 1256.8,438 1257.2,581.5 1257.8,438 1258.2,581.5 1258.8,438 1259.2,581.5 1259.8,438 1260.2,629.3 1260.8,438 1261.2,629.3 1261.8,342.3 1262.2,629.3 1262.8,438 1263.2,629.3 1263.8,438 1264.2,533.6 1264.8,438 1265.2,533.6 1265.8,485.8 1266.2,533.6 1266.8,485.8 1267.2,533.6 1267.8,485.8 1268.2,581.5 1268.8,485.8 1269.2,581.5 1269.8,485.8 1270.2,629.3 1270.8,438 1271.2,581.5 1271.8,438 1272.2,581.5 1272.8,438 1273.2,581.5 1273.8,438 1274.2,581.5 1274.8,438 1275.2,581.5 1275.8,342.3 1276.2,581.5 1276.8,438 1277.2,725 1277.8,438 1278.2,581.5 1278.8,438 1279.2,581.5 1279.8,438 1280.2,581.5 1280.8,438 1281.2,581.5 1281.8,438 1282.2,581.5 1282.8,438 1283.2,581.5 1283.8,438 1284.2,581.5 1284.8,438 1285.2,581.5 1285.8,438 1286.2,581.5 1286.8,438 1287.2,581.5 1287.8,438 1288.2,581.5 1288.8,438 1289.2,581.5 1289.8,438 1290.2,581.5 1290.8,438 1291.2,629.3 1291.8,438 1292.2,581.5 1292.8,438 1293.2,581.5 1293.8,438 1294.2,581.5 1294.8,438 1295.2,581.5 1295.8,438 1296.2,629.3 1296.8,438 1297.2,581.5 1297.8,438 1298.2,581.5 1298.8,438 1299.2,581.5 1299.8,438 1300.2,581.5 1300.8,438 1301.2,581.5 1301.8,438 1302.2,581.5 1302.8,390.1 1303.2,581.5 1303.8,485.8 1304.2,581.5 1304.8,485.8 1305.2,629.3 1305.8,485.8 1306.2,629.3 1306.8,485.8 1307.2,629.3 1307.8,438 1308.2,629.3 1308.8,342.3 1309.2,629.3 1309.8,342.3 1310.2,629.3 1310.8,342.3 1311.2,629.3 1311.8,342.3 1312.2,629.3 1312.8,342.3 1313.2,629.3 1313.8,438 1314.2,820.7 1314.8,438 1315.2,725 1315.8,438 1316.2,725 1316.8,438 1317.2,629.3 1317.8,438 1318.2,629.3 1318.8,438 1319.2,581.5 1319.8,438 1320.2,581.5 1320.8,438 1321.2,581.5 1321.8,438 1322.2,581.5 1322.8,438 1323.2,581.5 1323.8,438 1324.2,581.5 1324.8,438 1325.2,581.5 1325.8,485.8 1326.2,581.5 1326.8,485.8 1327.2,581.5 1327.8,485.8 1328.2,581.5 1328.8,485.8 1329.2,581.5 1329.8,438 1330.2,581.5 1330.8,438 1331.2,629.3 1331.8,438 1332.2,629.3 1332.8,438 1333.2,581.5 1333.8,438 1334.2,581.5 1334.8,438 1335.2,581.5 1335.8,438 1336.2,581.5 1336.8,485.8 1337.2,581.5 1337.8,485.8 1338.2,581.5 1338.8,485.8 1339.2,581.5 1339.8,485.8 1340.2,581.5 1340.8,485.8 1341.2,581.5 1341.8,438 1342.2,581.5 1342.8,438 1343.2,629.3 1343.8,438 1344.2,820.7 1344.8,438 1345.2,629.3 1345.8,485.8 1346.2,629.3 1346.8,485.8 1347.2,629.3 1347.8,485.8 1348.2,629.3 1348.8,485.8 1349.2,629.3 1349.8,485.8 1350.2,629.3 1350.8,485.8 1351.2,581.5 1351.8,485.8 1352.2,581.5 1352.8,485.8 1353.2,581.5 1353.8,485.8 1354.2,581.5 1354.8,485.8 1355.2,581.5 1355.8,485.8 1356.2,581.5 1356.8,485.8 1357.2,629.3 1357.8,485.8 1358.2,629.3 1358.8,438 1359.2,629.3 1359.8,485.8 1360.2,629.3 1360.8,533.6 1361.2,629.3 1361.8,533.6 1362.2,629.3 1362.8,533.6 1363.2,581.5 1363.8,533.6 1364.2,581.5 1364.8,533.6 1365.2,581.5 1365.8,438 1366.2,581.5 1366.8,485.8 1367.2,629.3 1367.8,485.8 1368.2,629.3 1368.8,485.8 1369.2,581.5 1369.8,485.8 1370.2,581.5 1370.8,485.8 1371.2,581.5 1371.8,438 1372.2,581.5 1372.8,438 1373.2,581.5 1373.8,485.8 1374.2,677.2 1374.8,485.8 1375.2,629.3 1375.8,485.8 1376.2,629.3 1376.8,485.8 1377.2,629.3 1377.8,438 1378.2,629.3 1378.8,438 1379.2,629.3 1379.8,438 1380.2,629.3 1380.8,438 1381.2,629.3 1381.8,438 1382.2,629.3 1382.8,438 1383.2,581.5 1383.8,438 1384.2,581.5 1384.8,485.8 1385.2,581.5 1385.8,485.8 1386.2,581.5 1386.8,485.8 1387.2,581.5 1387.8,485.8 1388.2,581.5 1388.8,485.8 1389.2,581.5 1389.8,485.8 1390.2,629.3 1390.8,485.8 1391.2,629.3 1391.8,485.8 1392.2,629.3 1392.8,485.8 1393.2,629.3 1393.8,485.8 1394.2,629.3 1394.8,485.8 1395.2,629.3 1395.8,485.8 1396.2,629.3 1396.8,485.8 1397.2,629.3 1397.8,485.8 1398.2,629.3 1398.8,485.8 1399.2,629.3 1399.8,485.8 1400.2,629.3 1400.8,485.8 1401.2,629.3 1401.8,438 1402.2,629.3 1402.8,438 1403.2,629.3 1403.8,438 1404.2,629.3 1404.8,485.8 1405.2,629.3 1405.8,485.8 1406.2,581.5 1406.8,485.8 1407.2,581.5 1407.8,485.8 1408.2,581.5 1408.8,485.8 1409.2,581.5 1409.8,438 1410.2,581.5 1410.8,485.8 1411.2,629.3 1411.8,485.8 1412.2,629.3 1412.8,485.8 1413.2,629.3 1413.8,485.8 1414.2,629.3 1414.8,485.8 1415.2,629.3 1415.8,485.8 1416.2,629.3 1416.8,438 1417.2,629.3 1417.8,438 1418.2,629.3 1418.8,438 1419.2,629.3 1419.8,438 1420.2,629.3 1420.8,438 1421.2,629.3 1421.8,485.8 1422.2,629.3 1422.8,485.8 1423.2,629.3 1423.8,485.8 1424.2,629.3 1424.8,485.8 1425.2,629.3 1425.8,485.8 1426.2,629.3 1426.8,485.8 1427.2,629.3 1427.8,485.8 1428.2,629.3 1428.8,485.8 1429.2,629.3 1429.8,485.8 1430.2,629.3 1430.8,438 1431.2,629.3 1431.8,438 1432.2,629.3 1432.8,438 1433.2,629.3 1433.8,342.3 1434.2,629.3 1434.8,438 1435.2,629.3 1435.8,438 1436.2,629.3 1436.8,438 1437.2,629.3 1437.8,438 1438.2,629.3 1438.8,438 1439.2,581.5 1439.8,438 1440.2,581.5 1440.8,438 1441.2,581.5 1441.8,438 1442.2,581.5 1442.8,485.8 1443.2,581.5 1443.8,485.8 1444.2,629.3 1444.8,485.8 1445.2,629.3 1445.8,485.8 1446.2,629.3 1446.8,485.8 1447.2,629.3 1447.8,438 1448.2,629.3 1448.8,533.6 1449.2,629.3 1449.8,533.6 1450.2,629.3 1450.8,533.6 1451.2,629.3 1451.8,533.6 1452.2,629.3 1452.8,485.8 1453.2,629.3 1453.8,485.8 1454.2,677.2 1454.8,438 1455.2,629.3 1455.8,342.3 1456.2,629.3 1456.8,438 1457.2,629.3 1457.8,438 1458.2,629.3 1458.8,438 1459.2,629.3 1459.8,485.8 1460.2,629.3 1460.8,485.8 1461.2,629.3 1461.8,485.8 1462.2,581.5 1462.8,485.8 1463.2,581.5 1463.8,485.8 1464.2,581.5 1464.8,485.8 1465.2,581.5 1465.8,485.8 1466.2,629.3 1466.8,485.8 1467.2,629.3 1467.8,438 1468.2,629.3 1468.8,485.8 1469.2,629.3 1469.8,485.8 1470.2,629.3 1470.8,485.8 1471.2,629.3 1471.8,485.8 1472.2,629.3 1472.8,485.8 1473.2,629.3 1473.8,485.8 1474.2,629.3 1474.8,438 1475.2,629.3 1475.8,485.8 1476.2,629.3 1476.8,485.8 1477.2,629.3 1477.8,485.8 1478.2,629.3 1478.8,533.6 1479.2,629.3 1479.8,533.6 1480.2,629.3 1480.8,533.6 1481.2,629.3 1481.8,533.6 1482.2,629.3 1482.8,485.8 1483.2,629.3 1483.8,438 1484.2,629.3 1484.8,438 1485.2,629.3 1485.8,438 1486.2,629.3 1486.8,438 1487.2,629.3 1487.8,438 1488.2,629.3 1488.8,485.8 1489.2,629.3 1489.8,485.8 1490.2,629.3 1490.8,485.8 1491.2,629.3 1491.8,485.8 1492.2,629.3 1492.8,485.8 1493.2,629.3 1493.8,485.8 1494.2,629.3 1494.8,438 1495.2,629.3 1495.8,342.3 1496.2,629.3 1496.8,438 1497.2,629.3 1497.8,438 1498.2,629.3 1498.8,438 1499.2,629.3 1499.8,438 1500.2,629.3 1500.8,438 1501.2,629.3 1501.8,438 1502.2,629.3 1502.8,485.8 1503.2,629.3 1503.8,485.8 1504.2,629.3 1504.8,485.8 1505.2,629.3 1505.8,485.8 1506.2,629.3 1506.8,533.6 1507.2,629.3 1507.8,533.6 1508.2,629.3 1508.8,533.6 1509.2,629.3 1509.8,533.6 1510.2,629.3 1510.8,485.8 1511.2,629.3 1511.8,485.8 1512.2,629.3 1512.8,485.8 1513.2,629.3 1513.8,485.8 1514.2,629.3 1514.8,485.8 1515.2,629.3 1515.8,485.8 1516.2,629.3 1516.8,485.8 1517.2,629.3 1517.8,485.8 1518.2,629.3 1518.8,533.6 1519.2,629.3 1519.8,533.6 1520.2,629.3 1520.8,533.6 1521.2,677.2 1521.8,533.6 1522.2,677.2 1522.8,485.8 1523.2,725 1523.8,438 1524.2,677.2 1524.8,438 1525.2,677.2 1525.8,438 1526.2,677.2 1526.8,438 1527.2,677.2 1527.8,438 1528.2,629.3 1528.8,438 1529.2,629.3 1529.8,438 1530.2,629.3 1530.8,438 1531.2,629.3 1531.8,438 1532.2,629.3 1532.8,438 1533.2,629.3 1533.8,438 1534.2,820.7 1534.8,438 1535.2,629.3 1535.8,438 1536.2,629.3 1536.8,438 1537.2,629.3 1537.8,438 1538.2,629.3 1538.8,438 1539.2,629.3 1539.8,438 1540.2,677.2 1540.8,438 1541.2,629.3 1541.8,438 1542.2,629.3 1542.8,438 1543.2,629.3 1543.8,438 1544.2,629.3 1544.8,438 1545.2,629.3 1545.8,438 1546.2,629.3 1546.8,485.8 1547.2,629.3 1547.8,485.8 1548.2,629.3 1548.8,485.8 1549.2,629.3 1549.8,485.8 1550.2,629.3 1550.8,485.8 1551.2,629.3 1551.8,485.8 1552.2,629.3 1552.8,485.8 1553.2,629.3 1553.8,485.8 1554.2,629.3 1554.8,438 1555.2,629.3 1555.8,485.8 1556.2,629.3 1556.8,485.8 1557.2,629.3 1557.8,485.8 1558.2,629.3 1558.8,485.8 1559.2,629.3 1559.8,438 1560.2,629.3 1560.8,438 1561.2,629.3 1561.8,438 1562.2,629.3 1562.8,438 1563.2,629.3 1563.8,438 1564.2,725 1564.8,438 1565.2,629.3 1565.8,438 1566.2,629.3 1566.8,485.8 1567.2,629.3 1567.8,485.8 1568.2,629.3 1568.8,485.8 1569.2,629.3 1569.8,485.8 1570.2,629.3 1570.8,485.8 1571.2,629.3 1571.8,438 1572.2,629.3 1572.8,438 1573.2,629.3 1573.8,438 1574.2,581.5 1574.8,438 1575.2,581.5 1575.8,485.8 1576.2,581.5 1576.8,485.8 1577.2,581.5 1577.8,485.8 1578.2,581.5 1578.8,485.8 1579.2,629.3 1579.8,485.8 1580.2,629.3 1580.8,485.8 1581.2,629.3 1581.8,485.8 1582.2,629.3 1582.8,485.8 1583.2,629.3 1583.8,485.8 1584.2,677.2 1584.8,438 1585.2,677.2 1585.8,485.8 1586.2,677.2 1586.8,485.8 1587.2,677.2 1587.8,485.8 1588.2,725 1588.8,485.8 1589.2,629.3 1589.8,485.8 1590.2,629.3 1590.8,485.8 1591.2,629.3 1591.8,485.8 1592.2,629.3 1592.8,485.8 1593.2,629.3 1593.8,485.8 1594.2,629.3 1594.8,533.6 1595.2,629.3 1595.8,533.6 1596.2,629.3 1596.8,533.6 1597.2,629.3 1597.8,533.6 1598.2,629.3 1598.8,438 1599.2,629.3 1599.8,342.3 1600.2,629.3 1600.8,438 1601.2,629.3 1601.8,438 1602.2,677.2 1602.8,533.6 1603.2,629.3 1603.8,533.6 1604.2,629.3 1604.8,533.6 1605.2,629.3 1605.8,533.6 1606.2,629.3 1606.8,533.6 1607.2,629.3 1607.8,485.8 1608.2,629.3 1608.8,485.8 1609.2,629.3 1609.8,533.6 1610.2,629.3 1610.8,533.6 1611.2,629.3 1611.8,533.6 1612.2,677.2 1612.8,533.6 1613.2,677.2 1613.8,533.6 1614.2,677.2 1614.8,485.8 1615.2,629.3 1615.8,485.8 1616.2,629.3 1616.8,485.8 1617.2,629.3 1617.8,533.6 1618.2,629.3 1618.8,533.6 1619.2,820.7 1619.8,533.6 1620.2,677.2 1620.8,533.6 1621.2,677.2 1621.8,485.8 1622.2,677.2 1622.8,485.8 1623.2,629.3 1623.8,485.8 1624.2,629.3 1624.8,485.8 1625.2,629.3 1625.8,438 1626.2,629.3 1626.8,438 1627.2,629.3 1627.8,438 1628.2,629.3 1628.8,438 1629.2,629.3 1629.8,438 1630.2,629.3 1630.8,533.6 1631.2,629.3 1631.8,533.6 1632.2,629.3 1632.8,533.6 1633.2,629.3 1633.8,533.6 1634.2,629.3 1634.8,485.8 1635.2,629.3 1635.8,342.3 1636.2,629.3 1636.8,485.8 1637.2,629.3 1637.8,485.8 1638.2,629.3 1638.8,485.8 1639.2,629.3 1639.8,485.8 1640.2,629.3 1640.8,485.8 1641.2,629.3 1641.8,485.8 1642.2,772.8 1642.8,485.8 1643.2,629.3 1643.8,438 1644.2,629.3 1644.8,438 1645.2,629.3 1645.8,438 1646.2,629.3 1646.8,438 1647.2,629.3 1647.8,438 1648.2,629.3 1648.8,438 1649.2,629.3 1649.8,581.5 1650.2,629.3 1650.8,581.5 1651.2,629.3 1651.8,581.5 1652.2,629.3 1652.8,581.5 1653.2,629.3 1653.8,581.5 1654.2,629.3 1654.8,581.5 1655.2,629.3 1655.8,581.5 1656.2,677.2 1656.8,581.5 1657.2,725 1657.8,581.5 1658.2,629.3 1658.8,581.5 1659.2,629.3 1659.8,581.5 1660.2,629.3 1660.8,533.6 1661.2,629.3 1661.8,533.6 1662.2,629.3 1662.8,533.6 1663.2,629.3 1663.8,533.6 1664.2,677.2 1664.8,533.6 1665.2,629.3 1665.8,485.8 1666.2,629.3 1666.8,485.8 1667.2,629.3 1667.8,485.8 1668.2,629.3 1668.8,485.8 1669.2,629.3 1669.8,485.8 1670.2,629.3 1670.8,485.8 1671.2,629.3 1671.8,485.8 1672.2,629.3 1672.8,485.8 1673.2,772.8 1673.8,533.6 1674.2,725 1674.8,533.6 1675.2,725 1675.8,533.6 1676.2,725 1676.8,533.6 1677.2,629.3 1677.8,533.6 1678.2,629.3 1678.8,533.6 1679.2,629.3 1679.8,581.5 1680.2,629.3 1680.8,581.5 1681.2,629.3 1681.8,581.5 1682.2,629.3 1682.8,581.5 1683.2,677.2 1683.8,581.5 1684.2,629.3 1684.8,581.5 1685.2,629.3 1685.8,485.8 1686.2,629.3 1686.8,485.8 1687.2,629.3 1687.8,485.8 1688.2,677.2 1688.8,485.8 1689.2,677.2 1689.8,485.8 1690.2,677.2 1690.8,438 1691.2,677.2 1691.8,581.5 1692.2,677.2 1692.8,581.5 1693.2,677.2 1693.8,581.5 1694.2,677.2 1694.8,581.5 1695.2,725 1695.8,581.5 1696.2,677.2 1696.8,581.5 1697.2,677.2 1697.8,533.6 1698.2,677.2 1698.8,581.5 1699.2,677.2 1699.8,581.5 1700.2,677.2 1700.8,581.5 1701.2,677.2 1701.8,581.5 1702.2,677.2 1702.8,581.5 1703.2,725 1703.8,581.5 1704.2,629.3 1704.8,533.6 1705.2,629.3 1705.8,533.6 1706.2,629.3 1706.8,533.6 1707.2,629.3 1707.8,533.6 1708.2,629.3 1708.8,533.6 1709.2,629.3 1709.8,533.6 1710.2,677.2 1710.8,533.6 1711.2,725 1711.8,485.8 1712.2,629.3 1712.8,485.8 1713.2,629.3 1713.8,485.8 1714.2,629.3 1714.8,485.8 1715.2,629.3 1715.8,581.5 1716.2,677.2 1716.8,581.5 1717.2,629.3 1717.8,581.5 1718.2,629.3 1718.8,581.5 1719.2,629.3 1719.8,581.5 1720.2,629.3 1720.8,581.5 1721.2,629.3 1721.8,533.6 1722.2,629.3 1722.8,581.5 1723.2,629.3 1723.8,581.5 1724.2,629.3 1724.8,581.5 1725.2,629.3 1725.8,581.5 1726.2,629.3 1726.8,581.5 1727.2,677.2 1727.8,533.6 1728.2,677.2 1728.8,581.5 1729.2,677.2 1729.8,581.5 1730.2,677.2 1730.8,581.5 1731.2,677.2 1731.8,581.5 1732.2,677.2 1732.8,581.5 1733.2,677.2 1733.8,533.6 1734.2,629.3 1734.8,533.6 1735.2,629.3 1735.8,533.6 1736.2,629.3 1736.8,533.6 1737.2,629.3 1737.8,533.6 1738.2,629.3 1738.8,485.8 1739.2,725 1739.8,485.8 1740.2,629.3 1740.8,485.8 1741.2,629.3 1741.8,533.6 1742.2,629.3 1742.8,533.6 1743.2,629.3 1743.8,533.6 1744.2,629.3 1744.8,533.6 1745.2,725 1745.8,533.6 1746.2,725 1746.8,533.6 1747.2,725 1747.8,485.8 1748.2,725 1748.8,533.6 1749.2,725 1749.8,533.6 1750.2,677.2 1750.8,533.6 1751.2,629.3 1751.8,533.6 1752.2,629.3 1752.8,485.8 1753.2,629.3 1753.8,485.8 1754.2,629.3 1754.8,485.8 1755.2,629.3 1755.8,485.8 1756.2,629.3 1756.8,485.8 1757.2,629.3 1757.8,485.8 1758.2,629.3 1758.8,485.8 1759.2,629.3 1759.8,438 1760.2,629.3 1760.8,485.8 1761.2,629.3 1761.8,485.8 1762.2,629.3 1762.8,485.8 1763.2,677.2 1763.8,581.5 1764.2,725 1764.8,581.5 1765.2,725 1765.8,581.5 1766.2,725 1766.8,581.5 1767.2,677.2 1767.8,581.5 1768.2,677.2 1768.8,581.5 1769.2,677.2 1769.8,533.6 1770.2,677.2 1770.8,438 1771.2,677.2 1771.8,533.6 1772.2,677.2 1772.8,533.6 1773.2,677.2 1773.8,533.6 1774.2,677.2 1774.8,533.6 1775.2,677.2 1775.8,533.6 1776.2,677.2 1776.8,485.8 1777.2,725 1777.8,485.8 1778.2,725 1778.8,485.8 1779.2,725 1779.8,485.8 1780.2,725 1780.8,533.6 1781.2,820.7 1781.8,533.6 1782.2,677.2 1782.8,533.6 1783.2,677.2 1783.8,533.6 1784.2,677.2 1784.8,485.8 1785.2,629.3 1785.8,438 1786.2,629.3 1786.8,485.8 1787.2,629.3 1787.8,485.8 1788.2,629.3 1788.8,485.8 1789.2,629.3 1789.8,485.8 1790.2,629.3 1790.8,485.8 1791.2,629.3 1791.8,533.6 1792.2,629.3 1792.8,581.5 1793.2,629.3 1793.8,581.5 1794.2,725 1794.8,581.5 1795.2,820.7 1795.8,581.5 1796.2,677.2 1796.8,581.5 1797.2,677.2 1797.8,629.3 1798.2,677.2 1798.8,629.3 1799.2,677.2 1799.8,629.3 1800.2,677.2 1800.8,629.3 1801.2,677.2 1801.8,629.3 1802.2,677.2 1802.8,485.8 1803.2,677.2 1803.8,438 1804.2,677.2 1804.8,485.8 1805.2,725 1805.8,485.8 1806.2,725 1806.8,485.8 1807.2,725 1807.8,485.8 1808.2,629.3 1808.8,485.8 1809.2,629.3 1809.8,485.8 1810.2,629.3 1810.8,485.8 1811.2,629.3 1811.8,485.8 1812.2,629.3 1812.8,485.8 1813.2,725 1813.8,485.8 1814.2,725 1814.8,485.8 1815.2,725 1815.8,485.8 1816.2,725 1816.8,485.8 1817.2,725 1817.8,485.8 1818.2,725 1818.8,485.8 1819.2,725 1819.8,485.8 1820.2,725 1820.8,581.5 1821.2,725 1821.8,581.5 1822.2,725 1822.8,581.5 1823.2,725 1823.8,581.5 1824.2,725 1824.8,581.5 1825.2,725 1825.8,581.5 1826.2,725 1826.8,485.8 1827.2,725 1827.8,581.5 1828.2,725 1828.8,581.5 1829.2,820.7 1829.8,581.5 1830.2,725 1830.8,581.5 1831.2,725 1831.8,581.5 1832.2,725 1832.8,581.5 1833.2,629.3 1833.8,581.5 1834.2,629.3 1834.8,581.5 1835.2,629.3 1835.8,581.5 1836.2,629.3 1836.8,581.5 1837.2,629.3 1837.8,581.5 1838.2,629.3 1838.8,581.5 1839.2,820.7 1839.8,485.8 1840.2,820.7 1840.8,533.6 1841.2,820.7 1841.8,533.6 1842.2,677.2 1842.8,533.6 1843.2,677.2 1843.8,533.6 1844.2,677.2 1844.8,533.6 1845.2,677.2 1845.8,485.8 1846.2,677.2 1846.8,485.8 1847.2,677.2 1847.8,485.8 1848.2,677.2 1848.8,485.8 1849.2,677.2 1849.8,485.8 1850.2,677.2 1850.8,485.8 1851.2,725 1851.8,485.8 1852.2,725 1852.8,581.5 1853.2,725 1853.8,581.5 1854.2,725 1854.8,581.5 1855.2,725 1855.8,581.5 1856.2,629.3 1856.8,581.5 1857.2,629.3 1857.8,581.5 1858.2,629.3 1858.8,581.5 1859.2,629.3 1859.8,533.6 1860.2,629.3 1860.8,581.5 1861.2,725 1861.8,581.5 1862.2,725 1862.8,581.5 1863.2,725 1863.8,581.5 1864.2,725 1864.8,581.5 1865.2,725 1865.8,581.5 1866.2,725 1866.8,581.5 1867.2,725 1867.8,581.5 1868.2,820.7 1868.8,581.5 1869.2,725 1869.8,533.6 1870.2,725 1870.8,533.6 1871.2,725 1871.8,485.8 1872.2,725 1872.8,485.8 1873.2,725 1873.8,485.8 1874.2,725 1874.8,485.8 1875.2,868.5 1875.8,485.8 1876.2,725 1876.8,485.8 1877.2,725 1877.8,533.6 1878.2,725 1878.8,533.6 1879.2,725 1879.8,533.6 1880.2,820.7 1880.8,533.6 1881.2,725 1881.8,533.6 1882.2,725 1882.8,438 1883.2,725 1883.8,533.6 1884.2,725 1884.8,533.6 1885.2,725 1885.8,533.6 1886.2,725 1886.8,533.6 1887.2,725 1887.8,533.6 1888.2,725 1888.8,533.6 1889.2,725 1889.8,533.6 1890.2,820.7 1890.8,533.6 1891.2,629.3 1891.8,581.5 1892.2,629.3 1892.8,581.5 1893.2,629.3 1893.8,581.5 1894.2,629.3 1894.8,581.5 1895.2,629.3 1895.8,581.5 1896.2,629.3 1896.8,581.5 1897.2,629.3 1897.8,485.8 1898.2,629.3 1898.8,581.5 1899.2,725 1899.8,581.5 1900.2,725 1900.8,581.5 1901.2,677.2 1901.8,581.5 1902.2,677.2 1902.8,581.5 1903.2,677.2 1903.8,581.5 1904.2,677.2 1904.8,581.5 1905.2,677.2 1905.8,533.6 1906.2,677.2 1906.8,438 1907.2,677.2 1907.8,533.6 1908.2,677.2 1908.8,533.6 1909.2,725 1909.8,533.6 1910.2,725 1910.8,533.6 1911.2,725 1911.8,533.6 1912.2,725 1912.8,533.6 1913.2,725 1913.8,629.3 1914.2,725 1914.8,629.3 1915.2,820.7 1915.8,629.3 1916.2,725 1916.8,629.3 1917.2,725 1917.8,629.3 1918.2,725 1918.8,629.3 1919.2,725 1919.8,629.3 1920.2,725 1920.8,581.5 1921.2,725 1921.8,581.5 1922.2,725 1922.8,581.5 1923.2,725 1923.8,581.5 1924.2,725 1924.8,581.5 1925.2,725 1925.8,581.5 1926.2,820.7 1926.8,581.5 1927.2,725 1927.8,581.5 1928.2,725 1928.8,581.5 1929.2,725 1929.8,581.5 1930.2,725 1930.8,533.6 1931.2,725 1931.8,581.5 1932.2,725 1932.8,581.5 1933.2,725 1933.8,581.5 1934.2,725 1934.8,581.5 1935.2,725 1935.8,581.5 1936.2,725 1936.8,581.5 1937.2,725 1937.8,581.5 1938.2,725 1938.8,581.5 1939.2,725 1939.8,581.5 1940.2,725 1940.8,581.5 1941.2,725 1941.8,581.5 1942.2,725 1942.8,581.5 1943.2,725 1943.8,629.3 1944.2,725 1944.8,629.3 1945.2,725 1945.8,629.3 1946.2,725 1946.8,629.3 1947.2,725 1947.8,629.3 1948.2,725 1948.8,581.5 1949.2,820.7 1949.8,581.5 1950.2,725 1950.8,581.5 1951.2,725 1951.8,629.3 1952.2,725 1952.8,629.3 1953.2,725 1953.8,629.3 1954.2,725 1954.8,629.3 1955.2,725 1955.8,581.5 1956.2,725 1956.8,581.5 1957.2,725 1957.8,629.3 1958.2,725 1958.8,629.3 1959.2,725 1959.8,629.3 1960.2,772.8 1960.8,629.3 1961.2,772.8 1961.8,581.5 1962.2,772.8 1962.8,581.5 1963.2,820.7 1963.8,581.5 1964.2,725 1964.8,581.5 1965.2,725 1965.8,581.5 1966.2,725 1966.8,581.5 1967.2,725 1967.8,533.6 1968.2,725 1968.8,581.5 1969.2,725 1969.8,629.3 1970.2,725 1970.8,629.3 1971.2,725 1971.8,629.3 1972.2,820.7 1972.8,629.3 1973.2,725 1973.8,629.3 1974.2,725 1974.8,629.3 1975.2,725 1975.8,581.5 1976.2,725 1976.8,581.5 1977.2,725 1977.8,581.5 1978.2,820.7 1978.8,533.6 1979.2,725 1979.8,438 1980.2,725 1980.8,533.6 1981.2,725 1981.8,533.6 1982.2,725 1982.8,581.5 1983.2,725 1983.8,581.5 1984.2,820.7 1984.8,581.5 1985.2,725 1985.8,581.5 1986.2,725 1986.8,581.5 1987.2,725 1987.8,581.5 1988.2,725 1988.8,581.5 1989.2,725 1989.8,581.5 1990.2,725 1990.8,581.5 1991.2,725 1991.8,485.8 1992.2,725 1992.8,533.6 1993.2,725 1993.8,533.6 1994.2,725 1994.8,533.6 1995.2,725 1995.8,533.6 1996.2,725 1996.8,485.8 1997.2,725 1997.8,533.6 1998.2,725 1998.8,533.6 1999.2,820.7 1999.8,581.5 2000.2,725 2000.8,581.5 2001.2,725 2001.8,581.5 2002.2,725 2002.8,581.5 2003.2,725 2003.8,581.5 2004.2,725 2004.8,438 2005.2,725 2005.8,581.5 2006.2,725 2006.8,581.5 2007.2,725 2007.8,581.5 2008.2,725 2008.8,581.5 2009.2,725 2009.8,581.5 2010.2,725 2010.8,581.5 2011.2,725 2011.8,485.8 2012.2,725 2012.8,581.5 2013.2,725 2013.8,581.5 2014.2,725 2014.8,581.5 2015.2,725 2015.8,581.5 2016.2,725 2016.8,581.5 2017.2,725 2017.8,581.5 2018.2,725 2018.8,581.5 2019.2,725 2019.8,485.8 2020.2,725 2020.8,581.5 2021.2,820.7 2021.8,581.5 2022.2,820.7 2022.8,581.5 2023.2,820.7 2023.8,581.5 2024.2,820.7 2024.8,581.5 2025.2,820.7 2025.8,581.5 2026.2,820.7 2026.8,533.6 2027.2,725 2027.8,533.6 2028.2,725 2028.8,485.8 2029.2,725 2029.8,581.5 2030.2,725 2030.8,581.5 2031.2,820.7 2031.8,581.5 2032.2,725 2032.8,581.5 2033.2,725 2033.8,581.5 2034.2,725 2034.8,581.5 2035.2,725 2035.8,581.5 2036.2,725 2036.8,581.5 2037.2,820.7 2037.8,533.6 2038.2,725 2038.8,533.6 2039.2,725 2039.8,533.6 2040.2,725 2040.8,533.6 2041.2,725 2041.8,485.8 2042.2,725 2042.8,581.5 2043.2,725 2043.8,629.3 2044.2,725 2044.8,629.3 2045.2,725 2045.8,629.3 2046.2,725 2046.8,629.3 2047.2,725 2047.8,629.3 2048.2,725 2048.8,629.3 2049.2,725 2049.8,629.3 2050.2,820.7 2050.8,581.5 2051.2,868.5 2051.8,581.5 2052.2,820.7 2052.8,533.6 2053.2,820.7 2053.8,581.5 2054.2,820.7 2054.8,581.5 2055.2,820.7 2055.8,581.5 2056.2,725 2056.8,581.5 2057.2,725 2057.8,581.5 2058.2,725 2058.8,485.8 2059.2,725 2059.8,581.5 2060.2,725 2060.8,581.5 2061.2,725 2061.8,581.5 2062.2,725 2062.8,581.5 2063.2,725 2063.8,581.5 2064.2,725 2064.8,629.3 2065.2,725 2065.8,629.3 2066.2,725 2066.8,629.3 2067.2,725 2067.8,629.3 2068.2,725 2068.8,629.3 2069.2,868.5 2069.8,629.3 2070.2,725 2070.8,581.5 2071.2,725 2071.8,581.5 2072.2,725 2072.8,581.5 2073.2,725 2073.8,581.5 2074.2,725 2074.8,581.5 2075.2,725 2075.8,581.5 2076.2,725 2076.8,581.5 2077.2,820.7 2077.8,581.5 2078.2,820.7 2078.8,533.6 2079.2,820.7 2079.8,581.5 2080.2,820.7 2080.8,581.5 2081.2,820.7 2081.8,581.5 2082.2,820.7 2082.8,629.3 2083.2,820.7 2083.8,629.3 2084.2,820.7 2084.8,629.3 2085.2,820.7 2085.8,629.3 2086.2,820.7 2086.8,629.3 2087.2,725 2087.8,629.3 2088.2,725 2088.8,629.3 2089.2,725 2089.8,581.5 2090.2,725 2090.8,485.8 2091.2,820.7 2091.8,581.5 2092.2,820.7 2092.8,581.5 2093.2,820.7 2093.8,581.5 2094.2,725 2094.8,581.5 2095.2,725 2095.8,485.8 2096.2,725 2096.8,581.5 2097.2,725 2097.8,629.3 2098.2,725 2098.8,629.3 2099.2,725 2099.8,629.3 2100.2,725 2100.8,629.3 2101.2,725 2101.8,629.3 2102.2,725 2102.8,581.5 2103.2,725 2103.8,581.5 2104.2,725 2104.8,581.5 2105.2,725 2105.8,581.5 2106.2,725 2106.8,581.5 2107.2,820.7 2107.8,581.5 2108.2,820.7 2108.8,438 2109.2,820.7 2109.8,581.5 2110.2,820.7 2110.8,629.3 2111.2,820.7 2111.8,629.3 2112.2,725 2112.8,629.3 2113.2,725 2113.8,629.3 2114.2,725 2114.8,629.3 2115.2,725 2115.8,629.3 2116.2,725 2116.8,581.5 2117.2,820.7 2117.8,581.5 2118.2,725 2118.8,581.5 2119.2,725 2119.8,533.6 2120.2,725 2120.8,629.3 2121.2,725 2121.8,629.3 2122.2,725 2122.8,629.3 2123.2,725 2123.8,629.3 2124.2,725 2124.8,629.3 2125.2,820.7 2125.8,629.3 2126.2,820.7 2126.8,629.3 2127.2,820.7 2127.8,629.3 2128.2,820.7 2128.8,629.3 2129.2,820.7 2129.8,629.3 2130.2,725 2130.8,581.5 2131.2,725 2131.8,581.5 2132.2,725 2132.8,581.5 2133.2,725 2133.8,581.5 2134.2,820.7 2134.8,581.5 2135.2,820.7 2135.8,581.5 2136.2,820.7 2136.8,581.5 2137.2,820.7 2137.8,629.3 2138.2,820.7 2138.8,629.3 2139.2,820.7 2139.8,629.3 2140.2,725 2140.8,629.3 2141.2,725 2141.8,629.3 2142.2,725 2142.8,342.3 2143.2,725 2143.8,629.3 2144.2,725 2144.8,629.3 2145.2,820.7 2145.8,629.3 2146.2,820.7 2146.8,629.3 2147.2,725 2147.8,581.5 2148.2,725 2148.8,581.5 2149.2,725 2149.8,581.5 2150.2,725 2150.8,581.5 2151.2,725 2151.8,581.5 2152.2,820.7 2152.8,581.5 2153.2,820.7 2153.8,629.3 2154.2,820.7 2154.8,629.3 2155.2,820.7 2155.8,629.3 2156.2,820.7 2156.8,629.3 2157.2,820.7 2157.8,581.5 2158.2,820.7 2158.8,581.5 2159.2,725 2159.8,581.5 2160.2,725 2160.8,629.3 2161.2,725 2161.8,629.3 2162.2,725 2162.8,629.3 2163.2,725 2163.8,629.3 2164.2,725 2164.8,533.6 2165.2,725 2165.8,581.5 2166.2,772.8 2166.8,581.5 2167.2,725 2167.8,581.5 2168.2,725 2168.8,581.5 2169.2,725 2169.8,581.5 2170.2,725 2170.8,581.5 2171.2,725 2171.8,581.5 2172.2,725 2172.8,581.5 2173.2,725"/>
<polyline id="without-trigger" class="tr" stroke="#ff0000" points="250.8,1251.2 251.2,1335 251.8,1227.3 252.2,1346.9 252.8,1251.2 253.2,1323 253.8,1227.3 254.2,1382.8 254.8,1287.1 255.2,1418.7 255.8,1275.2 256.2,1287.1 256.8,1275.2 257.2,1299.1 257.8,1323 258.2,1358.9 258.8,1287.1 259.2,1346.9 259.8,1263.2 260.2,1311 260.8,1299.1 261.2,1335 261.8,1275.2 262.2,1299.1 262.8,1263.2 263.2,1299.1 263.8,1311 264.2,1370.8 264.8,1215.4 265.2,1323 265.8,1263.2 266.2,1299.1 266.8,1215.4 267.2,1323 267.8,1311 268.2,1323 268.8,1323 269.2,1358.9 269.8,1335 270.2,1346.9 270.8,1299.1 271.2,1346.9 271.8,1275.2 272.2,1335 272.8,1323 273.2,1346.9 273.8,1299.1 274.2,1323 274.8,1323 275.2,1370.8 275.8,1263.2 276.2,1323 276.8,1311 277.2,1370.8 277.8,1275.2 278.2,1311 278.8,1311 279.2,1335 279.8,1251.2 280.2,1299.1 280.8,1263.2 281.2,1323 281.8,1299.1 282.2,1311 282.8,1251.2 283.2,1311 283.8,1251.2 284.2,1323 284.8,1323 285.2,1346.9 285.8,1311 286.2,1335 286.8,1239.3 287.2,1287.1 287.8,1287.1 288.2,1335 288.8,1251.2 289.2,1311 289.8,1299.1 290.2,1335 290.8,1275.2 291.2,1299.1 291.8,1299.1 292.2,1311 292.8,1263.2 293.2,1335 293.8,1299.1 294.2,1358.9 294.8,1311 295.2,1358.9 295.8,1239.3 296.2,1311 296.8,1239.3 297.2,1323 297.8,1227.3 298.2,1323 298.8,1227.3 299.2,1346.9 299.8,1239.3 300.2,1311 300.8,1287.1 301.2,1287.1 301.8,1251.2 302.2,1275.2 302.8,1275.2 303.2,1323 303.8,1251.2 304.2,1275.2 304.8,1263.2 305.2,1335 305.8,1251.2 306.2,1323 306.8,1299.1 307.2,1311 307.8,1251.2 308.2,1358.9 308.8,1263.2 309.2,1287.1 309.8,1263.2 310.2,1311 310.8,1251.2 311.2,1275.2 311.8,1239.3 312.2,1323 312.8,1239.3 313.2,1287.1 313.8,1251.2 314.2,1299.1 314.8,1251.2 315.2,1311 315.8,1287.1 316.2,1323 316.8,1215.4 317.2,1263.2 317.8,1263.2 318.2,1311 318.8,1275.2 319.2,1287.1 319.8,1287.1 320.2,1335 320.8,1275.2 321.2,1323 321.8,1287.1 322.2,1323 322.8,1251.2 323.2,1323 323.8,1251.2 324.2,1275.2 324.8,1275.2 325.2,1311 325.8,1227.3 326.2,1323 326.8,1239.3 327.2,1251.2 327.8,1227.3 328.2,1251.2 328.8,1203.4 329.2,1275.2 329.8,1263.2 330.2,1323 330.8,1263.2 331.2,1299.1 331.8,1275.2 332.2,1311 332.8,1287.1 333.2,1311 333.8,1239.3 334.2,1335 334.8,1227.3 335.2,1299.1 335.8,1251.2 336.2,1287.1 336.8,1239.3 337.2,1287.1 337.8,1251.2 338.2,1275.2 338.8,1251.2 339.2,1311 339.8,1275.2 340.2,1358.9 340.8,1251.2 341.2,1311 341.8,1227.3 342.2,1335 342.8,1239.3 343.2,1263.2 343.8,1215.4 344.2,1263.2 344.8,1239.3 345.2,1287.1 345.8,1251.2 346.2,1311 346.8,1227.3 347.2,1275.2 347.8,1251.2 348.2,1299.1 348.8,1275.2 349.2,1287.1 349.8,1203.4 350.2,1287.1 350.8,1263.2 351.2,1299.1 351.8,1239.3 352.2,1287.1 352.8,1227.3 353.2,1263.2 353.8,1275.2 354.2,1299.1 354.8,1215.4 355.2,1263.2 355.8,1227.3 356.2,1251.2 356.8,1251.2 357.2,1287.1 357.8,1191.4 358.2,1311 358.8,1251.2 359.2,1275.2 359.8,1239.3 360.2,1287.1 360.8,1227.3 361.2,1323 361.8,1287.1 362.2,1287.1 362.8,1251.2 363.2,1287.1 363.8,1155.6 364.2,1215.4 364.8,1251.2 365.2,1287.1 365.8,1215.4 366.2,1275.2 366.8,1191.4 367.2,1227.3 367.8,1227.3 368.2,1287.1 368.8,1167.5 369.2,1239.3 369.8,1227.3 370.2,1251.2 370.8,1179.5 371.2,1275.2 371.8,1251.2 372.2,1275.2 372.8,1167.5 373.2,1239.3 373.8,1239.3 374.2,1287.1 374.8,1239.3 375.2,1263.2 375.8,1215.4 376.2,1263.2 376.8,1203.4 377.2,1275.2 377.8,1167.5 378.2,1239.3 378.8,1227.3 379.2,1239.3 379.8,1227.3 380.2,1263.2 380.8,1203.4 381.2,1251.2 381.8,1179.5 382.2,1239.3 382.8,1191.4 383.2,1239.3 383.8,1239.3 384.2,1275.2 384.8,1203.4 385.2,1251.2 385.8,1203.4 386.2,1275.2 386.8,1179.5 387.2,1239.3 387.8,1179.5 388.2,1239.3 388.8,1215.4 389.2,1299.1 389.8,1191.4 390.2,1263.2 390.8,1191.4 391.2,1263.2 391.8,1203.4 392.2,1263.2 392.8,1215.4 393.2,1227.3 393.8,1203.4 394.2,1239.3 394.8,1203.4 395.2,1239.3 395.8,1203.4 396.2,1275.2 396.8,1215.4 397.2,1239.3 397.8,1203.4 398.2,1251.2 398.8,1239.3 399.2,1275.2 399.8,1203.4 400.2,1239.3 400.8,1227.3 401.2,1275.2 401.8,1191.4 402.2,1275.2 402.8,1203.4 403.2,1287.1 403.8,1227.3 404.2,1239.3 404.8,1167.5 405.2,1227.3 405.8,1179.5 406.2,1215.4 406.8,1143.6 407.2,1227.3 407.8,1167.5 408.2,1263.2 408.8,1227.3 409.2,1251.2 409.8,1191.4 410.2,1239.3 410.8,1143.6 411.2,1239.3 411.8,1191.4 412.2,1239.3 412.8,1179.5 413.2,1263.2 413.8,1203.4 414.2,1227.3 414.8,1215.4 415.2,1239.3 415.8,1191.4 416.2,1263.2 416.8,1179.5 417.2,1251.2 417.8,1227.3 418.2,1263.2 418.8,1215.4 419.2,1263.2 419.8,1191.4 420.2,1215.4 420.8,1191.4 421.2,1227.3 421.8,1167.5 422.2,1191.4 422.8,1215.4 423.2,1227.3 423.8,1191.4 424.2,1251.2 424.8,1167.5 425.2,1203.4 425.8,1107.7 426.2,1215.4 426.8,1215.4 427.2,1263.2 427.8,1167.5 428.2,1215.4 428.8,1191.4 429.2,1215.4 429.8,1191.4 430.2,1227.3 430.8,1167.5 431.2,1239.3 431.8,1203.4 432.2,1215.4 432.8,1179.5 433.2,1215.4 433.8,1203.4 434.2,1227.3 434.8,1179.5 435.2,1203.4 435.8,1155.6 436.2,1167.5 436.8,1179.5 437.2,1239.3 437.8,1143.6 438.2,1191.4 438.8,1179.5 439.2,1203.4 439.8,1203.4 440.2,1227.3 440.8,1167.5 441.2,1227.3 441.8,1155.6 442.2,1251.2 442.8,1143.6 443.2,1203.4 443.8,1179.5 444.2,1191.4 444.8,1131.6 445.2,1203.4 445.8,1095.8 446.2,1143.6 446.8,1143.6 447.2,1203.4 447.8,1131.6 448.2,1251.2 448.8,1179.5 449.2,1203.4 449.8,1179.5 450.2,1263.2 450.8,1131.6 451.2,1179.5 451.8,1131.6 452.2,1191.4 452.8,1107.7 453.2,1167.5 453.8,1131.6 454.2,1215.4 454.8,1131.6 455.2,1263.2 455.8,1167.5 456.2,1167.5 456.8,1119.7 457.2,1179.5 457.8,1167.5 458.2,1191.4 458.8,1179.5 459.2,1203.4 459.8,1107.7 460.2,1227.3 460.8,1131.6 461.2,1179.5 461.8,1167.5 462.2,1179.5 462.8,1155.6 463.2,1227.3 463.8,1167.5 464.2,1203.4 464.8,1155.6 465.2,1227.3 465.8,1107.7 466.2,1167.5 466.8,1095.8 467.2,1203.4 467.8,1131.6 468.2,1191.4 468.8,1119.7 469.2,1179.5 469.8,1095.8 470.2,1227.3 470.8,1155.6 471.2,1191.4 471.8,1095.8 472.2,1143.6 472.8,1131.6 473.2,1215.4 473.8,1131.6 474.2,1167.5 474.8,1143.6 475.2,1143.6 475.8,1131.6 476.2,1155.6 476.8,1143.6 477.2,1191.4 477.8,1191.4 478.2,1227.3 478.8,1119.7 479.2,1155.6 479.8,1095.8 480.2,1191.4 480.8,1095.8 481.2,1167.5 481.8,1131.6 482.2,1191.4 482.8,1095.8 483.2,1203.4 483.8,1131.6 484.2,1155.6 484.8,1155.6 485.2,1191.4 485.8,1155.6 486.2,1215.4 486.8,1179.5 487.2,1227.3 487.8,1143.6 488.2,1167.5 488.8,1143.6 489.2,1167.5 489.8,1143.6 490.2,1179.5 490.8,1083.8 491.2,1155.6 491.8,1143.6 492.2,1215.4 492.8,1203.4 493.2,1239.3 493.8,1131.6 494.2,1167.5 494.8,1131.6 495.2,1215.4 495.8,1119.7 496.2,1131.6 496.8,1143.6 497.2,1179.5 497.8,1131.6 498.2,1179.5 498.8,1179.5 499.2,1203.4 499.8,1167.5 500.2,1227.3 500.8,1143.6 501.2,1203.4 501.8,1071.8 502.2,1191.4 502.8,1155.6 503.2,1227.3 503.8,1131.6 504.2,1179.5 504.8,1143.6 505.2,1167.5 505.8,1155.6 506.2,1239.3 506.8,1131.6 507.2,1131.6 507.8,1095.8 508.2,1143.6 508.8,1083.8 509.2,1143.6 509.8,1107.7 510.2,1191.4 510.8,1107.7 511.2,1155.6 511.8,1107.7 512.2,1143.6 512.8,1143.6 513.2,1191.4 513.8,1107.7 514.2,1167.5 514.8,1107.7 515.2,1179.5 515.8,1131.6 516.2,1179.5 516.8,1131.6 517.2,1179.5 517.8,1095.8 518.2,1191.4 518.8,1036 519.2,1191.4 519.8,1095.8 520.2,1167.5 520.8,1131.6 521.2,1155.6 521.8,1083.8 522.2,1131.6 522.8,1143.6 523.2,1179.5 523.8,1143.6 524.2,1203.4 524.8,1095.8 525.2,1179.5 525.8,1107.7 526.2,1131.6 526.8,1083.8 527.2,1107.7 527.8,1143.6 528.2,1179.5 528.8,1119.7 529.2,1179.5 529.8,1155.6 530.2,1227.3 530.8,1119.7 531.2,1143.6 531.8,1083.8 532.2,1143.6 532.8,1143.6 533.2,1191.4 533.8,1143.6 534.2,1167.5 534.8,1107.7 535.2,1143.6 535.8,1119.7 536.2,1155.6 536.8,1119.7 537.2,1131.6 537.8,1059.9 538.2,1119.7 538.8,1155.6 539.2,1203.4 539.8,1107.7 540.2,1143.6 540.8,1131.6 541.2,1143.6 541.8,1095.8 542.2,1155.6 542.8,1119.7 543.2,1155.6 543.8,1071.8 544.2,1083.8 544.8,1071.8 545.2,1119.7 545.8,1095.8 546.2,1155.6 546.8,1095.8 547.2,1143.6 547.8,1095.8 548.2,1143.6 548.8,1047.9 549.2,1095.8 549.8,1071.8 550.2,1155.6 550.8,1095.8 551.2,1131.6 551.8,1095.8 552.2,1107.7 552.8,1083.8 553.2,1131.6 553.8,1095.8 554.2,1143.6 554.8,1095.8 555.2,1131.6 555.8,1119.7 556.2,1179.5 556.8,1131.6 557.2,1167.5 557.8,1107.7 558.2,1119.7 558.8,1119.7 559.2,1155.6 559.8,1095.8 560.2,1119.7 560.8,1131.6 561.2,1179.5 561.8,1107.7 562.2,1131.6 562.8,1131.6 563.2,1143.6 563.8,1107.7 564.2,1155.6 564.8,1083.8 565.2,1107.7 565.8,1107.7 566.2,1143.6 566.8,1119.7 567.2,1167.5 567.8,1107.7 568.2,1119.7 568.8,1047.9 569.2,1095.8 569.8,1119.7 570.2,1167.5 570.8,1119.7 571.2,1143.6 571.8,1083.8 572.2,1119.7 572.8,1083.8 573.2,1119.7 573.8,1095.8 574.2,1143.6 574.8,1107.7 575.2,1143.6 575.8,1095.8 576.2,1143.6 576.8,1095.8 577.2,1167.5 577.8,1131.6 578.2,1155.6 578.8,1059.9 579.2,1119.7 579.8,1059.9 580.2,1095.8 580.8,1095.8 581.2,1119.7 581.8,1107.7 582.2,1107.7 582.8,1107.7 583.2,1131.6 583.8,1083.8 584.2,1131.6 584.8,1083.8 585.2,1107.7 585.8,1047.9 586.2,1179.5 586.8,1071.8 587.2,1095.8 587.8,1107.7 588.2,1143.6 588.8,1059.9 589.2,1143.6 589.8,1071.8 590.2,1167.5 590.8,1059.9 591.2,1071.8 591.8,1119.7 592.2,1143.6 592.8,1143.6 593.2,1143.6 593.8,1131.6 594.2,1167.5 594.8,1059.9 595.2,1119.7 595.8,1071.8 596.2,1167.5 596.8,1071.8 597.2,1107.7 597.8,1012 598.2,1107.7 598.8,1095.8 599.2,1119.7 599.8,1024 600.2,1059.9 600.8,1107.7 601.2,1119.7 601.8,1059.9 602.2,1131.6 602.8,1119.7 603.2,1119.7 603.8,1071.8 604.2,1131.6 604.8,1059.9 605.2,1167.5 605.8,1095.8 606.2,1107.7 606.8,1059.9 607.2,1071.8 607.8,1095.8 608.2,1143.6 608.8,1071.8 609.2,1107.7 609.8,1119.7 610.2,1143.6 610.8,1095.8 611.2,1107.7 611.8,1095.8 612.2,1131.6 612.8,1059.9 613.2,1143.6 613.8,1095.8 614.2,1179.5 614.8,1083.8 615.2,1167.5 615.8,1107.7 616.2,1131.6 616.8,1107.7 617.2,1167.5 617.8,1095.8 618.2,1107.7 618.8,1071.8 619.2,1107.7 619.8,1036 620.2,1095.8 620.8,1095.8 621.2,1119.7 621.8,1059.9 622.2,1083.8 622.8,1024 623.2,1119.7 623.8,1083.8 624.2,1119.7 624.8,1083.8 625.2,1155.6 625.8,1107.7 626.2,1119.7 626.8,1059.9 627.2,1107.7 627.8,1095.8 628.2,1119.7 628.8,1083.8 629.2,1143.6 629.8,1095.8 630.2,1119.7 630.8,1071.8 631.2,1119.7 631.8,1047.9 632.2,1131.6 632.8,1071.8 633.2,1155.6 633.8,1059.9 634.2,1107.7 634.8,1047.9 635.2,1107.7 635.8,1024 636.2,1131.6 636.8,1095.8 637.2,1107.7 637.8,1095.8 638.2,1119.7 638.8,1095.8 639.2,1107.7 639.8,1083.8 640.2,1131.6 640.8,1107.7 641.2,1107.7 641.8,1095.8 642.2,1119.7 642.8,1119.7 643.2,1167.5 643.8,1036 644.2,1107.7 644.8,1071.8 645.2,1119.7 645.8,1095.8 646.2,1131.6 646.8,1095.8 647.2,1119.7 647.8,1095.8 648.2,1131.6 648.8,1059.9 649.2,1107.7 649.8,1047.9 650.2,1107.7 650.8,1071.8 651.2,1083.8 651.8,1059.9 652.2,1131.6 652.8,1107.7 653.2,1107.7 653.8,1059.9 654.2,1131.6 654.8,1107.7 655.2,1143.6 655.8,1059.9 656.2,1143.6 656.8,1047.9 657.2,1083.8 657.8,1047.9 658.2,1143.6 658.8,1059.9 659.2,1095.8 659.8,1071.8 660.2,1095.8 660.8,1036 661.2,1083.8 661.8,1059.9 662.2,1107.7 662.8,1119.7 663.2,1119.7 663.8,1059.9 664.2,1131.6 664.8,1059.9 665.2,1083.8 665.8,1071.8 666.2,1095.8 666.8,1059.9 667.2,1095.8 667.8,1071.8 668.2,1095.8 668.8,1083.8 669.2,1131.6 669.8,1071.8 670.2,1107.7 670.8,1047.9 671.2,1131.6 671.8,1071.8 672.2,1095.8 672.8,1059.9 673.2,1131.6 673.8,1047.9 674.2,1095.8 674.8,1119.7 675.2,1143.6 675.8,1059.9 676.2,1143.6 676.8,1095.8 677.2,1143.6 677.8,1083.8 678.2,1119.7 678.8,1083.8 679.2,1083.8 679.8,1071.8 680.2,1119.7 680.8,1095.8 681.2,1143.6 681.8,1059.9 682.2,1095.8 682.8,1071.8 683.2,1071.8 683.8,1047.9 684.2,1155.6 684.8,1071.8 685.2,1083.8 685.8,1071.8 686.2,1107.7 686.8,1024 687.2,1083.8 687.8,1095.8 688.2,1155.6 688.8,1083.8 689.2,1119.7 689.8,1059.9 690.2,1119.7 690.8,1024 691.2,1095.8 691.8,1059.9 692.2,1083.8 692.8,1024 693.2,1047.9 693.8,1024 694.2,1071.8 694.8,1071.8 695.2,1107.7 695.8,1083.8 696.2,1095.8 696.8,1059.9 697.2,1131.6 697.8,1059.9 698.2,1131.6 698.8,1083.8 699.2,1107.7 699.8,1059.9 700.2,1143.6 700.8,1047.9 701.2,1083.8 701.8,1059.9 702.2,1083.8 702.8,1047.9 703.2,1107.7 703.8,1059.9 704.2,1095.8 704.8,1083.8 705.2,1119.7 705.8,1000.1 706.2,1107.7 706.8,1071.8 707.2,1131.6 707.8,1107.7 708.2,1119.7 708.8,1119.7 709.2,1131.6 709.8,1047.9 710.2,1083.8 710.8,1071.8 711.2,1083.8 711.8,1083.8 712.2,1131.6 712.8,1059.9 713.2,1119.7 713.8,1071.8 714.2,1107.7 714.8,1000.1 715.2,1024 715.8,1071.8 716.2,1119.7 716.8,1024 717.2,1119.7 717.8,1059.9 718.2,1083.8 718.8,1071.8 719.2,1083.8 719.8,1095.8 720.2,1107.7 720.8,1071.8 721.2,1083.8 721.8,1012 722.2,1083.8 722.8,1012 723.2,1083.8 723.8,1047.9 724.2,1095.8 724.8,1071.8 725.2,1131.6 725.8,1083.8 726.2,1107.7 726.8,1047.9 727.2,1071.8 727.8,1036 728.2,1095.8 728.8,1095.8 729.2,1131.6 729.8,1071.8 730.2,1155.6 730.8,1024 731.2,1047.9 731.8,1059.9 732.2,1119.7 732.8,988.1 733.2,1095.8 733.8,1059.9 734.2,1071.8 734.8,1047.9 735.2,1107.7 735.8,1047.9 736.2,1119.7 736.8,1024 737.2,1071.8 737.8,1059.9 738.2,1119.7 738.8,1071.8 739.2,1095.8 739.8,1059.9 740.2,1107.7 740.8,1047.9 741.2,1083.8 741.8,1012 742.2,1071.8 742.8,1059.9 743.2,1083.8 743.8,1095.8 744.2,1119.7 744.8,1059.9 745.2,1095.8 745.8,1071.8 746.2,1095.8 746.8,1083.8 747.2,1143.6 747.8,1024 748.2,1095.8 748.8,1012 749.2,1083.8 749.8,1036 750.2,1095.8 750.8,1083.8 751.2,1131.6 751.8,1059.9 752.2,1119.7 752.8,1059.9 753.2,1119.7 753.8,1036 754.2,1119.7 754.8,1000.1 755.2,1036 755.8,1059.9 756.2,1095.8 756.8,1059.9 757.2,1071.8 757.8,1047.9 758.2,1059.9 758.8,1024 759.2,1083.8 759.8,1000.1 760.2,1047.9 760.8,1071.8 761.2,1083.8 761.8,1047.9 762.2,1131.6 762.8,1047.9 763.2,1107.7 763.8,1059.9 764.2,1119.7 764.8,1047.9 765.2,1107.7 765.8,1059.9 766.2,1095.8 766.8,1047.9 767.2,1083.8 767.8,1036 768.2,1083.8 768.8,1012 769.2,1083.8 769.8,1047.9 770.2,1119.7 770.8,1024 771.2,1083.8 771.8,1024 772.2,1059.9 772.8,976.2 773.2,1047.9 773.8,1012 774.2,1119.7 774.8,1024 775.2,1119.7 775.8,1083.8 776.2,1095.8 776.8,1071.8 777.2,1095.8 777.8,1024 778.2,1047.9 778.8,988.1 779.2,1095.8 779.8,1024 780.2,1119.7 780.8,1036 781.2,1107.7 781.8,1024 782.2,1107.7 782.8,1036 783.2,1059.9 783.8,1047.9 784.2,1059.9 784.8,1012 785.2,1095.8 785.8,1024 786.2,1047.9 786.8,1012 787.2,1024 787.8,1024 788.2,1071.8 788.8,1047.9 789.2,1059.9 789.8,1000.1 790.2,1059.9 790.8,976.2 791.2,1131.6 791.8,1047.9 792.2,1131.6 792.8,1024 793.2,1071.8 793.8,1024 794.2,1047.9 794.8,1024 795.2,1071.8 795.8,1036 796.2,1047.9 796.8,1024 797.2,1095.8 797.8,1047.9 798.2,1083.8 798.8,1000.1 799.2,1107.7 799.8,1012 800.2,1095.8 800.8,1024 801.2,1071.8 801.8,1036 802.2,1095.8 802.8,1071.8 803.2,1107.7 803.8,1036 804.2,1095.8 804.8,1000.1 805.2,1071.8 805.8,1036 806.2,1071.8 806.8,1000.1 807.2,1071.8 807.8,1059.9 808.2,1083.8 808.8,1071.8 809.2,1107.7 809.8,1036 810.2,1107.7 810.8,1047.9 811.2,1071.8 811.8,1000.1 812.2,1012 812.8,1024 813.2,1071.8 813.8,1036 814.2,1107.7 814.8,1036 815.2,1059.9 815.8,1047.9 816.2,1059.9 816.8,1012 817.2,1083.8 817.8,1059.9 818.2,1107.7 818.8,1036 819.2,1095.8 819.8,1059.9 820.2,1083.8 820.8,1012 821.2,1095.8 821.8,1047.9 822.2,1131.6 822.8,1059.9 823.2,1119.7 823.8,1083.8 824.2,1131.6 824.8,952.2 825.2,1047.9 825.8,1036 826.2,1071.8 826.8,988.1 827.2,1024 827.8,1012 828.2,1071.8 828.8,1012 829.2,1047.9 829.8,1000.1 830.2,1095.8 830.8,1000.1 831.2,1036 831.8,1000.1 832.2,1107.7 832.8,1047.9 833.2,1083.8 833.8,1036 834.2,1036 834.8,1071.8 835.2,1107.7 835.8,1012 836.2,1047.9 836.8,988.1 837.2,1024 837.8,1012 838.2,1083.8 838.8,1059.9 839.2,1071.8 839.8,1024 840.2,1131.6 840.8,1024 841.2,1095.8 841.8,1036 842.2,1071.8 842.8,1059.9 843.2,1095.8 843.8,1071.8 844.2,1095.8 844.8,1047.9 845.2,1107.7 845.8,988.1 846.2,1059.9 846.8,1012 847.2,1083.8 847.8,1000.1 848.2,1071.8 848.8,1059.9 849.2,1083.8 849.8,1024 850.2,1095.8 850.8,1036 851.2,1083.8 851.8,1024 852.2,1059.9 852.8,1024 853.2,1107.7 853.8,988.1 854.2,1071.8 854.8,1024 855.2,1071.8 855.8,1047.9 856.2,1071.8 856.8,1000.1 857.2,1036 857.8,1024 858.2,1095.8 858.8,1024 859.2,1059.9 859.8,1024 860.2,1095.8 860.8,1059.9 861.2,1083.8 861.8,1047.9 862.2,1107.7 862.8,1012 863.2,1095.8 863.8,1000.1 864.2,1047.9 864.8,1024 865.2,1047.9 865.8,1000.1 866.2,1095.8 866.8,988.1 867.2,1036 867.8,976.2 868.2,1059.9 868.8,988.1 869.2,1036 869.8,1012 870.2,1107.7 870.8,1000.1 871.2,1024 871.8,1024 872.2,1107.7 872.8,1036 873.2,1071.8 873.8,1024 874.2,1059.9 874.8,1024 875.2,1024 875.8,1000.1 876.2,1083.8 876.8,1012 877.2,1083.8 877.8,1012 878.2,1071.8 878.8,1024 879.2,1059.9 879.8,1024 880.2,1071.8 880.8,1036 881.2,1071.8 881.8,976.2 882.2,1024 882.8,1036 883.2,1083.8 883.8,1047.9 884.2,1071.8 884.8,1012 885.2,1024 885.8,1047.9 886.2,1095.8 886.8,1012 887.2,1047.9 887.8,1000.1 888.2,1036 888.8,1000.1 889.2,1012 889.8,1000.1 890.2,1071.8 890.8,1059.9 891.2,1071.8 891.8,1083.8 892.2,1095.8 892.8,988.1 893.2,1024 893.8,1036 894.2,1059.9 894.8,1000.1 895.2,1024 895.8,988.1 896.2,1071.8 896.8,1012 897.2,1059.9 897.8,964.2 898.2,1047.9 898.8,976.2 899.2,1047.9 899.8,988.1 900.2,1059.9 900.8,1036 901.2,1083.8 901.8,976.2 902.2,1071.8 902.8,1024 903.2,1024 903.8,976.2 904.2,1024 904.8,1047.9 905.2,1071.8 905.8,1047.9 906.2,1059.9 906.8,1024 907.2,1059.9 907.8,1059.9 908.2,1083.8 908.8,1000.1 909.2,1036 909.8,1024 910.2,1036 910.8,1036 911.2,1059.9 911.8,1012 912.2,1059.9 912.8,1024 913.2,1083.8 913.8,1000.1 914.2,1036 914.8,1012 915.2,1024 915.8,1012 916.2,1107.7 916.8,1059.9 917.2,1083.8 917.8,1036 918.2,1119.7 918.8,988.1 919.2,1012 919.8,1071.8 920.2,1095.8 920.8,1036 921.2,1095.8 921.8,1000.1 922.2,1036 922.8,1036 923.2,1119.7 923.8,1047.9 924.2,1119.7 924.8,1012 925.2,1119.7 925.8,1024 926.2,1059.9 926.8,1047.9 927.2,1059.9 927.8,964.2 928.2,1036 928.8,1036 929.2,1059.9 929.8,964.2 930.2,1059.9 930.8,1012 931.2,1047.9 931.8,1024 932.2,1083.8 932.8,1071.8 933.2,1095.8 933.8,1047.9 934.2,1095.8 934.8,1059.9 935.2,1071.8 935.8,1036 936.2,1083.8 936.8,1024 937.2,1107.7 937.8,1012 938.2,1059.9 938.8,1012 939.2,1024 939.8,1036 940.2,1071.8 940.8,1024 941.2,1083.8 941.8,1012 942.2,1047.9 942.8,1000.1 943.2,1012 943.8,1047.9 944.2,1071.8 944.8,1012 945.2,1095.8 945.8,1012 946.2,1047.9 946.8,1000.1 947.2,1071.8 947.8,1012 948.2,1095.8 948.8,1012 949.2,1047.9 949.8,1024 950.2,1047.9 950.8,1036 951.2,1107.7 951.8,1000.1 952.2,1083.8 952.8,988.1 953.2,1083.8 953.8,1000.1 954.2,1071.8 954.8,1024 955.2,1071.8 955.8,1036 956.2,1095.8 956.8,1036 957.2,1131.6 957.8,1059.9 958.2,1107.7 958.8,988.1 959.2,1024 959.8,976.2 960.2,1024 960.8,964.2 961.2,1095.8 961.8,1000.1 962.2,1059.9 962.8,1012 963.2,1107.7 963.8,964.2 964.2,1083.8 964.8,1012 965.2,1071.8 965.8,1012 966.2,1071.8 966.8,1024 967.2,1107.7 967.8,1083.8 968.2,1107.7 968.8,1024 969.2,1083.8 969.8,1071.8 970.2,1131.6 970.8,1036 971.2,1059.9 971.8,1024 972.2,1036 972.8,1036 973.2,1107.7 973.8,1036 974.2,1059.9 974.8,1024 975.2,1071.8 975.8,1047.9 976.2,1083.8 976.8,1024 977.2,1047.9 977.8,1059.9 978.2,1095.8 978.8,1036 979.2,1071.8 979.8,1000.1 980.2,1071.8 980.8,988.1 981.2,1059.9 981.8,1000.1 982.2,1083.8 982.8,1024 983.2,1071.8 983.8,1000.1 984.2,1059.9 984.8,1059.9 985.2,1083.8 985.8,1024 986.2,1071.8 986.8,1024 987.2,1083.8 987.8,976.2 988.2,1024 988.8,1036 989.2,1071.8 989.8,1036 990.2,1083.8 990.8,1036 991.2,1095.8 991.8,988.1 992.2,1024 992.8,1047.9 993.2,1083.8 993.8,1012 994.2,1036 994.8,1012 995.2,1012 995.8,988.1 996.2,1059.9 996.8,1000.1 997.2,1036 997.8,1024 998.2,1095.8 998.8,1012 999.2,1095.8 999.8,1036 1000.2,1059.9 1000.8,988.1 1001.2,1047.9 1001.8,1000.1 1002.2,1024 1002.8,1024 1003.2,1095.8 1003.8,1047.9 1004.2,1071.8 1004.8,1047.9 1005.2,1083.8 1005.8,1036 1006.2,1131.6 1006.8,1000.1 1007.2,1071.8 1007.8,1036 1008.2,1107.7 1008.8,1000.1 1009.2,1059.9 1009.8,1036 1010.2,1059.9 1010.8,1012 1011.2,1047.9 1011.8,1024 1012.2,1071.8 1012.8,1036 1013.2,1107.7 1013.8,988.1 1014.2,1036 1014.8,1012 1015.2,1047.9 1015.8,1036 1016.2,1059.9 1016.8,1024 1017.2,1083.8 1017.8,1047.9 1018.2,1083.8 1018.8,1059.9 1019.2,1071.8 1019.8,1036 1020.2,1047.9 1020.8,1000.1 1021.2,1036 1021.8,1012 1022.2,1083.8 1022.8,1012 1023.2,1059.9 1023.8,1047.9 1024.2,1095.8 1024.8,1012 1025.2,1071.8 1025.8,1036 1026.2,1071.8 1026.8,1012 1027.2,1071.8 1027.8,1047.9 1028.2,1083.8 1028.8,988.1 1029.2,1071.8 1029.8,976.2 1030.2,1059.9 1030.8,988.1 1031.2,1024 1031.8,952.2 1032.2,1036 1032.8,976.2 1033.2,1071.8 1033.8,1059.9 1034.2,1083.8 1034.8,1036 1035.2,1047.9 1035.8,1012 1036.2,1047.9 1036.8,1036 1037.2,1119.7 1037.8,1047.9 1038.2,1083.8 1038.8,1000.1 1039.2,1047.9 1039.8,1036 1040.2,1059.9 1040.8,1024 1041.2,1071.8 1041.8,1024 1042.2,1107.7 1042.8,976.2 1043.2,1047.9 1043.8,1059.9 1044.2,1119.7 1044.8,1000.1 1045.2,1059.9 1045.8,988.1 1046.2,1047.9 1046.8,988.1 1047.2,1036 1047.8,1000.1 1048.2,1071.8 1048.8,1012 1049.2,1059.9 1049.8,976.2 1050.2,1012 1050.8,1012 1051.2,1036 1051.8,1024 1052.2,1071.8 1052.8,1000.1 1053.2,1047.9 1053.8,1000.1 1054.2,1107.7 1054.8,1024 1055.2,1095.8 1055.8,1000.1 1056.2,1036 1056.8,1047.9 1057.2,1083.8 1057.8,1000.1 1058.2,1083.8 1058.8,1024 1059.2,1059.9 1059.8,988.1 1060.2,1036 1060.8,1012 1061.2,1047.9 1061.8,1012 1062.2,1059.9 1062.8,1083.8 1063.2,1107.7 1063.8,1036 1064.2,1047.9 1064.8,988.1 1065.2,1036 1065.8,1024 1066.2,1047.9 1066.8,1047.9 1067.2,1059.9 1067.8,1036 1068.2,1083.8 1068.8,1047.9 1069.2,1059.9 1069.8,1036 1070.2,1047.9 1070.8,1024 1071.2,1071.8 1071.8,1012 1072.2,1047.9 1072.8,1036 1073.2,1071.8 1073.8,1024 1074.2,1071.8 1074.8,1059.9 1075.2,1107.7 1075.8,952.2 1076.2,1107.7 1076.8,1047.9 1077.2,1083.8 1077.8,1059.9 1078.2,1107.7 1078.8,1036 1079.2,1047.9 1079.8,1036 1080.2,1071.8 1080.8,1024 1081.2,1059.9 1081.8,988.1 1082.2,1012 1082.8,1012 1083.2,1047.9 1083.8,1047.9 1084.2,1107.7 1084.8,988.1 1085.2,1047.9 1085.8,1036 1086.2,1083.8 1086.8,1036 1087.2,1095.8 1087.8,1012 1088.2,1083.8 1088.8,988.1 1089.2,1036 1089.8,1036 1090.2,1047.9 1090.8,1059.9 1091.2,1095.8 1091.8,1024 1092.2,1083.8 1092.8,988.1 1093.2,1071.8 1093.8,1012 1094.2,1083.8 1094.8,1012 1095.2,1047.9 1095.8,1012 1096.2,1095.8 1096.8,1024 1097.2,1047.9 1097.8,1024 1098.2,1059.9 1098.8,1024 1099.2,1095.8 1099.8,1047.9 1100.2,1131.6 1100.8,976.2 1101.2,1059.9 1101.8,1012 1102.2,1071.8 1102.8,952.2 1103.2,1059.9 1103.8,988.1 1104.2,1083.8 1104.8,1036 1105.2,1059.9 1105.8,988.1 1106.2,1071.8 1106.8,1000.1 1107.2,1071.8 1107.8,1071.8 1108.2,1083.8 1108.8,1024 1109.2,1047.9 1109.8,1024 1110.2,1036 1110.8,1024 1111.2,1047.9 1111.8,976.2 1112.2,1024 1112.8,1024 1113.2,1047.9 1113.8,1012 1114.2,1059.9 1114.8,1036 1115.2,1095.8 1115.8,1047.9 1116.2,1059.9 1116.8,1000.1 1117.2,1036 1117.8,976.2 1118.2,1047.9 1118.8,976.2 1119.2,1036 1119.8,1012 1120.2,1119.7 1120.8,1036 1121.2,1095.8 1121.8,1024 1122.2,1059.9 1122.8,1024 1123.2,1107.7 1123.8,1047.9 1124.2,1107.7 1124.8,964.2 1125.2,1024 1125.8,1000.1 1126.2,1036 1126.8,1000.1 1127.2,1047.9 1127.8,988.1 1128.2,1047.9 1128.8,1012 1129.2,1059.9 1129.8,952.2 1130.2,1059.9 1130.8,988.1 1131.2,1047.9 1131.8,1000.1 1132.2,1036 1132.8,1024 1133.2,1059.9 1133.8,1024 1134.2,1059.9 1134.8,1024 1135.2,1047.9 1135.8,1024 1136.2,1036 1136.8,1000.1 1137.2,1095.8 1137.8,1012 1138.2,1095.8 1138.8,1036 1139.2,1083.8 1139.8,1059.9 1140.2,1071.8 1140.8,1024 1141.2,1071.8 1141.8,1012 1142.2,1083.8 1142.8,1000.1 1143.2,1024 1143.8,1036 1144.2,1083.8 1144.8,1012 1145.2,1047.9 1145.8,1047.9 1146.2,1083.8 1146.8,988.1 1147.2,1047.9 1147.8,1036 1148.2,1107.7 1148.8,1024 1149.2,1143.6 1149.8,1024 1150.2,1071.8 1150.8,1024 1151.2,1047.9 1151.8,988.1 1152.2,1119.7 1152.8,1000.1 1153.2,1143.6 1153.8,952.2 1154.2,1047.9 1154.8,1024 1155.2,1107.7 1155.8,976.2 1156.2,1047.9 1156.8,1024 1157.2,1083.8 1157.8,1047.9 1158.2,1095.8 1158.8,1071.8 1159.2,1107.7 1159.8,1059.9 1160.2,1095.8 1160.8,988.1 1161.2,1036 1161.8,1000.1 1162.2,1036 1162.8,1047.9 1163.2,1095.8 1163.8,1024 1164.2,1083.8 1164.8,988.1 1165.2,1083.8 1165.8,964.2 1166.2,1083.8 1166.8,1012 1167.2,1047.9 1167.8,1036 1168.2,1095.8 1168.8,1036 1169.2,1036 1169.8,1047.9 1170.2,1095.8 1170.8,1047.9 1171.2,1059.9 1171.8,1024 1172.2,1059.9 1172.8,1012 1173.2,1047.9 1173.8,964.2 1174.2,1012 1174.8,1000.1 1175.2,1083.8 1175.8,964.2 1176.2,1059.9 1176.8,1000.1 1177.2,1036 1177.8,988.1 1178.2,1083.8 1178.8,988.1 1179.2,1036 1179.8,1036 1180.2,1059.9 1180.8,1024 1181.2,1071.8 1181.8,1024 1182.2,1071.8 1182.8,1024 1183.2,1071.8 1183.8,1036 1184.2,1071.8 1184.8,1036 1185.2,1071.8 1185.8,1036 1186.2,1095.8 1186.8,1000.1 1187.2,1024 1187.8,1024 1188.2,1047.9 1188.8,1000.1 1189.2,1024 1189.8,1059.9 1190.2,1083.8 1190.8,1000.1 1191.2,1059.9 1191.8,1012 1192.2,1059.9 1192.8,1059.9 1193.2,1083.8 1193.8,1071.8 1194.2,1083.8 1194.8,988.1 1195.2,1083.8 1195.8,1047.9 1196.2,1095.8 1196.8,1047.9 1197.2,1095.8 1197.8,1024 1198.2,1059.9 1198.8,988.1 1199.2,1071.8 1199.8,1047.9 1200.2,1095.8 1200.8,1024 1201.2,1083.8 1201.8,1047.9 1202.2,1071.8 1202.8,1036 1203.2,1095.8 1203.8,1024 1204.2,1059.9 1204.8,1036 1205.2,1083.8 1205.8,1024 1206.2,1047.9 1206.8,1000.1 1207.2,1012 1207.8,988.1 1208.2,1024 1208.8,1012 1209.2,1119.7 1209.8,1024 1210.2,1107.7 1210.8,1024 1211.2,1047.9 1211.8,1024 1212.2,1071.8 1212.8,1000.1 1213.2,1024 1213.8,1000.1 1214.2,1047.9 1214.8,1047.9 1215.2,1047.9 1215.8,1047.9 1216.2,1059.9 1216.8,1071.8 1217.2,1131.6 1217.8,1012 1218.2,1083.8 1218.8,1036 1219.2,1071.8 1219.8,1047.9 1220.2,1119.7 1220.8,976.2 1221.2,1071.8 1221.8,1059.9 1222.2,1083.8 1222.8,988.1 1223.2,1059.9 1223.8,976.2 1224.2,1036 1224.8,1024 1225.2,1071.8 1225.8,1036 1226.2,1095.8 1226.8,1047.9 1227.2,1095.8 1227.8,1024 1228.2,1047.9 1228.8,1000.1 1229.2,1059.9 1229.8,1012 1230.2,1059.9 1230.8,1024 1231.2,1083.8 1231.8,1024 1232.2,1107.7 1232.8,1071.8 1233.2,1083.8 1233.8,1047.9 1234.2,1107.7 1234.8,1059.9 1235.2,1083.8 1235.8,1000.1 1236.2,1095.8 1236.8,1000.1 1237.2,1083.8 1237.8,1012 1238.2,1059.9 1238.8,1047.9 1239.2,1107.7 1239.8,1000.1 1240.2,1024 1240.8,1047.9 1241.2,1083.8 1241.8,1036 1242.2,1059.9 1242.8,1024 1243.2,1071.8 1243.8,1024 1244.2,1083.8 1244.8,1071.8 1245.2,1095.8 1245.8,1047.9 1246.2,1095.8 1246.8,1012 1247.2,1071.8 1247.8,1059.9 1248.2,1095.8 1248.8,1036 1249.2,1095.8 1249.8,1012 1250.2,1036 1250.8,1000.1 1251.2,1036 1251.8,1071.8 1252.2,1107.7 1252.8,1036 1253.2,1083.8 1253.8,1012 1254.2,1059.9 1254.8,1036 1255.2,1071.8 1255.8,1036 1256.2,1083.8 1256.8,1047.9 1257.2,1107.7 1257.8,1012 1258.2,1047.9 1258.8,1036 1259.2,1059.9 1259.8,1012 1260.2,1095.8 1260.8,1024 1261.2,1059.9 1261.8,1000.1 1262.2,1119.7 1262.8,1047.9 1263.2,1071.8 1263.8,1000.1 1264.2,1047.9 1264.8,988.1 1265.2,1083.8 1265.8,1012 1266.2,1083.8 1266.8,1047.9 1267.2,1071.8 1267.8,1036 1268.2,1059.9 1268.8,1024 1269.2,1107.7 1269.8,1047.9 1270.2,1071.8 1270.8,1012 1271.2,1059.9 1271.8,1059.9 1272.2,1083.8 1272.8,1012 1273.2,1059.9 1273.8,1036 1274.2,1071.8 1274.8,1012 1275.2,1047.9 1275.8,1047.9 1276.2,1119.7 1276.8,1024 1277.2,1059.9 1277.8,1024 1278.2,1059.9 1278.8,1012 1279.2,1083.8 1279.8,1012 1280.2,1059.9 1280.8,1036 1281.2,1083.8 1281.8,1000.1 1282.2,1083.8 1282.8,1024 1283.2,1071.8 1283.8,1012 1284.2,1107.7 1284.8,1024 1285.2,1095.8 1285.8,1036 1286.2,1107.7 1286.8,976.2 1287.2,1071.8 1287.8,1024 1288.2,1107.7 1288.8,1083.8 1289.2,1095.8 1289.8,1047.9 1290.2,1071.8 1290.8,1024 1291.2,1036 1291.8,1047.9 1292.2,1119.7 1292.8,1047.9 1293.2,1071.8 1293.8,1000.1 1294.2,1024 1294.8,1000.1 1295.2,1071.8 1295.8,1047.9 1296.2,1083.8 1296.8,1047.9 1297.2,1059.9 1297.8,1036 1298.2,1059.9 1298.8,1059.9 1299.2,1131.6 1299.8,1012 1300.2,1143.6 1300.8,1024 1301.2,1059.9 1301.8,1024 1302.2,1059.9 1302.8,1036 1303.2,1083.8 1303.8,1036 1304.2,1083.8 1304.8,1012 1305.2,1059.9 1305.8,1047.9 1306.2,1083.8 1306.8,1036 1307.2,1131.6 1307.8,1059.9 1308.2,1107.7 1308.8,1000.1 1309.2,1036 1309.8,1036 1310.2,1083.8 1310.8,1047.9 1311.2,1143.6 1311.8,1036 1312.2,1071.8 1312.8,1036 1313.2,1047.9 1313.8,1059.9 1314.2,1095.8 1314.8,1036 1315.2,1059.9 1315.8,1071.8 1316.2,1083.8 1316.8,964.2 1317.2,1024 1317.8,1024 1318.2,1119.7 1318.8,1047.9 1319.2,1071.8 1319.8,1024 1320.2,1083.8 1320.8,1036 1321.2,1119.7 1321.8,1036 1322.2,1071.8 1322.8,1012 1323.2,1059.9 1323.8,1012 1324.2,1071.8 1324.8,1036 1325.2,1083.8 1325.8,1024 1326.2,1071.8 1326.8,1047.9 1327.2,1107.7 1327.8,988.1 1328.2,1071.8 1328.8,1024 1329.2,1059.9 1329.8,1036 1330.2,1083.8 1330.8,1012 1331.2,1047.9 1331.8,1012 1332.2,1047.9 1332.8,1000.1 1333.2,1047.9 1333.8,1012 1334.2,1059.9 1334.8,1083.8 1335.2,1107.7 1335.8,1012 1336.2,1059.9 1336.8,1047.9 1337.2,1095.8 1337.8,1024 1338.2,1059.9 1338.8,1024 1339.2,1071.8 1339.8,1047.9 1340.2,1107.7 1340.8,1012 1341.2,1071.8 1341.8,1024 1342.2,1047.9 1342.8,1012 1343.2,1095.8 1343.8,1012 1344.2,1059.9 1344.8,1036 1345.2,1059.9 1345.8,1012 1346.2,1059.9 1346.8,1071.8 1347.2,1107.7 1347.8,964.2 1348.2,1024 1348.8,1047.9 1349.2,1059.9 1349.8,1012 1350.2,1047.9 1350.8,1036 1351.2,1119.7 1351.8,1059.9 1352.2,1071.8 1352.8,1000.1 1353.2,1071.8 1353.8,1059.9 1354.2,1083.8 1354.8,988.1 1355.2,1071.8 1355.8,1000.1 1356.2,1119.7 1356.8,1059.9 1357.2,1107.7 1357.8,964.2 1358.2,1047.9 1358.8,1047.9 1359.2,1095.8 1359.8,1047.9 1360.2,1095.8 1360.8,988.1 1361.2,1071.8 1361.8,1059.9 1362.2,1095.8 1362.8,1036 1363.2,1047.9 1363.8,1000.1 1364.2,1107.7 1364.8,1071.8 1365.2,1095.8 1365.8,1047.9 1366.2,1083.8 1366.8,1047.9 1367.2,1047.9 1367.8,1036 1368.2,1059.9 1368.8,988.1 1369.2,1059.9 1369.8,1059.9 1370.2,1071.8 1370.8,1024 1371.2,1107.7 1371.8,976.2 1372.2,1047.9 1372.8,1036 1373.2,1107.7 1373.8,1047.9 1374.2,1083.8 1374.8,1012 1375.2,1071.8 1375.8,1012 1376.2,1047.9 1376.8,1024 1377.2,1071.8 1377.8,1012 1378.2,1059.9 1378.8,1036 1379.2,1107.7 1379.8,1047.9 1380.2,1083.8 1380.8,1047.9 1381.2,1095.8 1381.8,1047.9 1382.2,1107.7 1382.8,1036 1383.2,1059.9 1383.8,1036 1384.2,1071.8 1384.8,1000.1 1385.2,1083.8 1385.8,1036 1386.2,1059.9 1386.8,1047.9 1387.2,1059.9 1387.8,1036 1388.2,1107.7 1388.8,1024 1389.2,1095.8 1389.8,1000.1 1390.2,1155.6 1390.8,1024 1391.2,1071.8 1391.8,1095.8 1392.2,1155.6 1392.8,1071.8 1393.2,1095.8 1393.8,1047.9 1394.2,1095.8 1394.8,1059.9 1395.2,1083.8 1395.8,1047.9 1396.2,1095.8 1396.8,1047.9 1397.2,1107.7 1397.8,1036 1398.2,1107.7 1398.8,1012 1399.2,1071.8 1399.8,1071.8 1400.2,1095.8 1400.8,1071.8 1401.2,1119.7 1401.8,1036 1402.2,1071.8 1402.8,976.2 1403.2,1107.7 1403.8,1071.8 1404.2,1107.7 1404.8,1000.1 1405.2,1119.7 1405.8,1036 1406.2,1047.9 1406.8,1083.8 1407.2,1107.7 1407.8,1024 1408.2,1083.8 1408.8,1036 1409.2,1107.7 1409.8,1059.9 1410.2,1083.8 1410.8,1036 1411.2,1083.8 1411.8,1047.9 1412.2,1059.9 1412.8,1036 1413.2,1107.7 1413.8,1036 1414.2,1059.9 1414.8,1000.1 1415.2,1047.9 1415.8,1083.8 1416.2,1119.7 1416.8,1059.9 1417.2,1095.8 1417.8,988.1 1418.2,1083.8 1418.8,1036 1419.2,1095.8 1419.8,1047.9 1420.2,1059.9 1420.8,1024 1421.2,1059.9 1421.8,1036 1422.2,1143.6 1422.8,1059.9 1423.2,1083.8 1423.8,1036 1424.2,1071.8 1424.8,1047.9 1425.2,1095.8 1425.8,1012 1426.2,1071.8 1426.8,1047.9 1427.2,1095.8 1427.8,1059.9 1428.2,1095.8 1428.8,1047.9 1429.2,1047.9 1429.8,1036 1430.2,1083.8 1430.8,1024 1431.2,1095.8 1431.8,1095.8 1432.2,1119.7 1432.8,1012 1433.2,1059.9 1433.8,1012 1434.2,1071.8 1434.8,1047.9 1435.2,1119.7 1435.8,1047.9 1436.2,1059.9 1436.8,1059.9 1437.2,1095.8 1437.8,1047.9 1438.2,1047.9 1438.8,1036 1439.2,1059.9 1439.8,1012 1440.2,1107.7 1440.8,1036 1441.2,1071.8 1441.8,1036 1442.2,1071.8 1442.8,1047.9 1443.2,1107.7 1443.8,1083.8 1444.2,1143.6 1444.8,1047.9 1445.2,1083.8 1445.8,1059.9 1446.2,1083.8 1446.8,1059.9 1447.2,1071.8 1447.8,1024 1448.2,1083.8 1448.8,1083.8 1449.2,1107.7 1449.8,1024 1450.2,1071.8 1450.8,1024 1451.2,1131.6 1451.8,1059.9 1452.2,1071.8 1452.8,1024 1453.2,1071.8 1453.8,1036 1454.2,1107.7 1454.8,1047.9 1455.2,1059.9 1455.8,1036 1456.2,1119.7 1456.8,1000.1 1457.2,1083.8 1457.8,1024 1458.2,1107.7 1458.8,1047.9 1459.2,1131.6 1459.8,1024 1460.2,1095.8 1460.8,1047.9 1461.2,1083.8 1461.8,1059.9 1462.2,1071.8 1462.8,1036 1463.2,1107.7 1463.8,1036 1464.2,1143.6 1464.8,1012 1465.2,1071.8 1465.8,1083.8 1466.2,1131.6 1466.8,1047.9 1467.2,1095.8 1467.8,1024 1468.2,1071.8 1468.8,1024 1469.2,1083.8 1469.8,1000.1 1470.2,1083.8 1470.8,1024 1471.2,1047.9 1471.8,1059.9 1472.2,1071.8 1472.8,1024 1473.2,1071.8 1473.8,1047.9 1474.2,1071.8 1474.8,1071.8 1475.2,1071.8 1475.8,1047.9 1476.2,1095.8 1476.8,1047.9 1477.2,1059.9 1477.8,1047.9 1478.2,1083.8 1478.8,1071.8 1479.2,1107.7 1479.8,1059.9 1480.2,1083.8 1480.8,1047.9 1481.2,1095.8 1481.8,1095.8 1482.2,1131.6 1482.8,1036 1483.2,1059.9 1483.8,964.2 1484.2,1071.8 1484.8,1036 1485.2,1107.7 1485.8,1036 1486.2,1071.8 1486.8,1059.9 1487.2,1071.8 1487.8,1059.9 1488.2,1083.8 1488.8,1047.9 1489.2,1131.6 1489.8,1047.9 1490.2,1107.7 1490.8,1059.9 1491.2,1095.8 1491.8,1036 1492.2,1095.8 1492.8,1059.9 1493.2,1107.7 1493.8,1047.9 1494.2,1071.8 1494.8,1047.9 1495.2,1107.7 1495.8,1024 1496.2,1047.9 1496.8,1059.9 1497.2,1083.8 1497.8,1000.1 1498.2,1095.8 1498.8,1036 1499.2,1059.9 1499.8,1036 1500.2,1119.7 1500.8,976.2 1501.2,1083.8 1501.8,1036 1502.2,1095.8 1502.8,1024 1503.2,1119.7 1503.8,1024 1504.2,1107.7 1504.8,1047.9 1505.2,1071.8 1505.8,1000.1 1506.2,1047.9 1506.8,1059.9 1507.2,1131.6 1507.8,1012 1508.2,1107.7 1508.8,1071.8 1509.2,1095.8 1509.8,1047.9 1510.2,1083.8 1510.8,1012 1511.2,1047.9 1511.8,1071.8 1512.2,1107.7 1512.8,1059.9 1513.2,1107.7 1513.8,1059.9 1514.2,1095.8 1514.8,1036 1515.2,1059.9 1515.8,1047.9 1516.2,1095.8 1516.8,1047.9 1517.2,1083.8 1517.8,1012 1518.2,1107.7 1518.8,1047.9 1519.2,1071.8 1519.8,1036 1520.2,1083.8 1520.8,1024 1521.2,1083.8 1521.8,1036 1522.2,1095.8 1522.8,988.1 1523.2,1095.8 1523.8,1083.8 1524.2,1095.8 1524.8,1047.9 1525.2,1107.7 1525.8,1024 1526.2,1131.6 1526.8,1071.8 1527.2,1095.8 1527.8,1059.9 1528.2,1071.8 1528.8,1071.8 1529.2,1131.6 1529.8,1083.8 1530.2,1095.8 1530.8,1071.8 1531.2,1143.6 1531.8,1024 1532.2,1107.7 1532.8,1036 1533.2,1107.7 1533.8,1036 1534.2,1083.8 1534.8,1059.9 1535.2,1095.8 1535.8,1059.9 1536.2,1083.8 1536.8,1036 1537.2,1095.8 1537.8,1047.9 1538.2,1083.8 1538.8,1071.8 1539.2,1107.7 1539.8,1059.9 1540.2,1107.7 1540.8,1071.8 1541.2,1119.7 1541.8,1024 1542.2,1107.7 1542.8,1047.9 1543.2,1143.6 1543.8,1059.9 1544.2,1071.8 1544.8,1071.8 1545.2,1095.8 1545.8,1083.8 1546.2,1119.7 1546.8,1047.9 1547.2,1059.9 1547.8,1036 1548.2,1059.9 1548.8,1024 1549.2,1071.8 1549.8,1047.9 1550.2,1095.8 1550.8,1071.8 1551.2,1083.8 1551.8,1036 1552.2,1107.7 1552.8,1059.9 1553.2,1095.8 1553.8,1047.9 1554.2,1059.9 1554.8,1047.9 1555.2,1095.8 1555.8,1059.9 1556.2,1143.6 1556.8,1071.8 1557.2,1155.6 1557.8,1047.9 1558.2,1083.8 1558.8,1036 1559.2,1083.8 1559.8,1059.9 1560.2,1095.8 1560.8,1047.9 1561.2,1083.8 1561.8,1095.8 1562.2,1107.7 1562.8,1071.8 1563.2,1119.7 1563.8,1024 1564.2,1059.9 1564.8,1036 1565.2,1107.7 1565.8,1059.9 1566.2,1107.7 1566.8,1024 1567.2,1083.8 1567.8,1036 1568.2,1095.8 1568.8,1071.8 1569.2,1119.7 1569.8,1047.9 1570.2,1083.8 1570.8,1059.9 1571.2,1107.7 1571.8,1071.8 1572.2,1095.8 1572.8,1024 1573.2,1083.8 1573.8,1024 1574.2,1119.7 1574.8,1071.8 1575.2,1095.8 1575.8,1012 1576.2,1047.9 1576.8,1047.9 1577.2,1083.8 1577.8,1012 1578.2,1059.9 1578.8,988.1 1579.2,1071.8 1579.8,1047.9 1580.2,1095.8 1580.8,1036 1581.2,1143.6 1581.8,1095.8 1582.2,1107.7 1582.8,1047.9 1583.2,1107.7 1583.8,1107.7 1584.2,1107.7 1584.8,1012 1585.2,1024 1585.8,1071.8 1586.2,1143.6 1586.8,1024 1587.2,1095.8 1587.8,1071.8 1588.2,1107.7 1588.8,1024 1589.2,1095.8 1589.8,1059.9 1590.2,1107.7 1590.8,1036 1591.2,1083.8 1591.8,1071.8 1592.2,1095.8 1592.8,1047.9 1593.2,1095.8 1593.8,1071.8 1594.2,1131.6 1594.8,1012 1595.2,1083.8 1595.8,1071.8 1596.2,1131.6 1596.8,1047.9 1597.2,1083.8 1597.8,1083.8 1598.2,1119.7 1598.8,1071.8 1599.2,1119.7 1599.8,1000.1 1600.2,1107.7 1600.8,1024 1601.2,1083.8 1601.8,1059.9 1602.2,1119.7 1602.8,1071.8 1603.2,1071.8 1603.8,1024 1604.2,1071.8 1604.8,1059.9 1605.2,1119.7 1605.8,1071.8 1606.2,1083.8 1606.8,1059.9 1607.2,1071.8 1607.8,1036 1608.2,1107.7 1608.8,1000.1 1609.2,1083.8 1609.8,1059.9 1610.2,1071.8 1610.8,1036 1611.2,1083.8 1611.8,1071.8 1612.2,1107.7 1612.8,1071.8 1613.2,1167.5 1613.8,1095.8 1614.2,1179.5 1614.8,1047.9 1615.2,1071.8 1615.8,1036 1616.2,1107.7 1616.8,1047.9 1617.2,1095.8 1617.8,1071.8 1618.2,1107.7 1618.8,1024 1619.2,1095.8 1619.8,1047.9 1620.2,1095.8 1620.8,1059.9 1621.2,1083.8 1621.8,1083.8 1622.2,1143.6 1622.8,1047.9 1623.2,1047.9 1623.8,1059.9 1624.2,1107.7 1624.8,988.1 1625.2,1071.8 1625.8,1047.9 1626.2,1059.9 1626.8,1047.9 1627.2,1131.6 1627.8,1036 1628.2,1095.8 1628.8,1071.8 1629.2,1119.7 1629.8,1047.9 1630.2,1083.8 1630.8,1059.9 1631.2,1095.8 1631.8,1047.9 1632.2,1083.8 1632.8,1036 1633.2,1119.7 1633.8,1071.8 1634.2,1095.8 1634.8,1071.8 1635.2,1107.7 1635.8,1024 1636.2,1107.7 1636.8,1000.1 1637.2,1071.8 1637.8,1036 1638.2,1059.9 1638.8,1012 1639.2,1071.8 1639.8,1012 1640.2,1083.8 1640.8,1012 1641.2,1059.9 1641.8,1047.9 1642.2,1107.7 1642.8,1071.8 1643.2,1107.7 1643.8,1071.8 1644.2,1107.7 1644.8,1047.9 1645.2,1107.7 1645.8,1047.9 1646.2,1071.8 1646.8,1071.8 1647.2,1107.7 1647.8,1047.9 1648.2,1107.7 1648.8,1071.8 1649.2,1155.6 1649.8,1036 1650.2,1095.8 1650.8,1036 1651.2,1059.9 1651.8,1024 1652.2,1095.8 1652.8,1095.8 1653.2,1095.8 1653.8,1059.9 1654.2,1095.8 1654.8,1047.9 1655.2,1083.8 1655.8,976.2 1656.2,1059.9 1656.8,1059.9 1657.2,1119.7 1657.8,1047.9 1658.2,1095.8 1658.8,1012 1659.2,1047.9 1659.8,1083.8 1660.2,1095.8 1660.8,1059.9 1661.2,1107.7 1661.8,1071.8 1662.2,1107.7 1662.8,1047.9 1663.2,1059.9 1663.8,1071.8 1664.2,1107.7 1664.8,1059.9 1665.2,1119.7 1665.8,1036 1666.2,1083.8 1666.8,1000.1 1667.2,1107.7 1667.8,1036 1668.2,1083.8 1668.8,1036 1669.2,1131.6 1669.8,1047.9 1670.2,1107.7 1670.8,1036 1671.2,1131.6 1671.8,1047.9 1672.2,1107.7 1672.8,1083.8 1673.2,1131.6 1673.8,1095.8 1674.2,1119.7 1674.8,1059.9 1675.2,1083.8 1675.8,1095.8 1676.2,1131.6 1676.8,1036 1677.2,1059.9 1677.8,1024 1678.2,1083.8 1678.8,1024 1679.2,1119.7 1679.8,1047.9 1680.2,1107.7 1680.8,1059.9 1681.2,1095.8 1681.8,1083.8 1682.2,1095.8 1682.8,1059.9 1683.2,1131.6 1683.8,1059.9 1684.2,1107.7 1684.8,1024 1685.2,1071.8 1685.8,1047.9 1686.2,1083.8 1686.8,1095.8 1687.2,1131.6 1687.8,1036 1688.2,1107.7 1688.8,1012 1689.2,1095.8 1689.8,1083.8 1690.2,1131.6 1690.8,1083.8 1691.2,1155.6 1691.8,1071.8 1692.2,1107.7 1692.8,1036 1693.2,1095.8 1693.8,1024 1694.2,1083.8 1694.8,1095.8 1695.2,1119.7 1695.8,1095.8 1696.2,1131.6 1696.8,1000.1 1697.2,1143.6 1697.8,1083.8 1698.2,1107.7 1698.8,1047.9 1699.2,1071.8 1699.8,1071.8 1700.2,1095.8 1700.8,1036 1701.2,1071.8 1701.8,1059.9 1702.2,1071.8 1702.8,1012 1703.2,1047.9 1703.8,1047.9 1704.2,1107.7 1704.8,1059.9 1705.2,1119.7 1705.8,1024 1706.2,1083.8 1706.8,1059.9 1707.2,1107.7 1707.8,1095.8 1708.2,1107.7 1708.8,1047.9 1709.2,1155.6 1709.8,1036 1710.2,1083.8 1710.8,1083.8 1711.2,1119.7 1711.8,1047.9 1712.2,1143.6 1712.8,1024 1713.2,1083.8 1713.8,1095.8 1714.2,1143.6 1714.8,1047.9 1715.2,1059.9 1715.8,1047.9 1716.2,1071.8 1716.8,1000.1 1717.2,1059.9 1717.8,1036 1718.2,1131.6 1718.8,1024 1719.2,1095.8 1719.8,1083.8 1720.2,1143.6 1720.8,1083.8 1721.2,1167.5 1721.8,1095.8 1722.2,1143.6 1722.8,1047.9 1723.2,1071.8 1723.8,1083.8 1724.2,1143.6 1724.8,1071.8 1725.2,1119.7 1725.8,1107.7 1726.2,1155.6 1726.8,1083.8 1727.2,1143.6 1727.8,1059.9 1728.2,1107.7 1728.8,1059.9 1729.2,1071.8 1729.8,1059.9 1730.2,1119.7 1730.8,1036 1731.2,1083.8 1731.8,1083.8 1732.2,1107.7 1732.8,1047.9 1733.2,1131.6 1733.8,1036 1734.2,1131.6 1734.8,1059.9 1735.2,1083.8 1735.8,1059.9 1736.2,1107.7 1736.8,1024 1737.2,1095.8 1737.8,1083.8 1738.2,1107.7 1738.8,1071.8 1739.2,1107.7 1739.8,1024 1740.2,1107.7 1740.8,1036 1741.2,1107.7 1741.8,1047.9 1742.2,1095.8 1742.8,1059.9 1743.2,1143.6 1743.8,1119.7 1744.2,1155.6 1744.8,1047.9 1745.2,1083.8 1745.8,1119.7 1746.2,1131.6 1746.8,1095.8 1747.2,1095.8 1747.8,1071.8 1748.2,1107.7 1748.8,1083.8 1749.2,1107.7 1749.8,1024 1750.2,1119.7 1750.8,1012 1751.2,1095.8 1751.8,1059.9 1752.2,1119.7 1752.8,1036 1753.2,1083.8 1753.8,1036 1754.2,1095.8 1754.8,1047.9 1755.2,1155.6 1755.8,1047.9 1756.2,1167.5 1756.8,1059.9 1757.2,1107.7 1757.8,1095.8 1758.2,1155.6 1758.8,1095.8 1759.2,1095.8 1759.8,1083.8 1760.2,1119.7 1760.8,1071.8 1761.2,1143.6 1761.8,1047.9 1762.2,1095.8 1762.8,1059.9 1763.2,1083.8 1763.8,1071.8 1764.2,1131.6 1764.8,1047.9 1765.2,1095.8 1765.8,1036 1766.2,1083.8 1766.8,1047.9 1767.2,1107.7 1767.8,1024 1768.2,1071.8 1768.8,1095.8 1769.2,1107.7 1769.8,1059.9 1770.2,1119.7 1770.8,1071.8 1771.2,1095.8 1771.8,1059.9 1772.2,1131.6 1772.8,1095.8 1773.2,1155.6 1773.8,1095.8 1774.2,1131.6 1774.8,1071.8 1775.2,1155.6 1775.8,1083.8 1776.2,1143.6 1776.8,1071.8 1777.2,1119.7 1777.8,1036 1778.2,1155.6 1778.8,1047.9 1779.2,1095.8 1779.8,1024 1780.2,1107.7 1780.8,1059.9 1781.2,1107.7 1781.8,1083.8 1782.2,1095.8 1782.8,1071.8 1783.2,1155.6 1783.8,1047.9 1784.2,1083.8 1784.8,1047.9 1785.2,1083.8 1785.8,1059.9 1786.2,1131.6 1786.8,1059.9 1787.2,1131.6 1787.8,1095.8 1788.2,1095.8 1788.8,1095.8 1789.2,1143.6 1789.8,1059.9 1790.2,1131.6 1790.8,1083.8 1791.2,1131.6 1791.8,1071.8 1792.2,1119.7 1792.8,1095.8 1793.2,1131.6 1793.8,1059.9 1794.2,1107.7 1794.8,1095.8 1795.2,1119.7 1795.8,1083.8 1796.2,1095.8 1796.8,1107.7 1797.2,1107.7 1797.8,1036 1798.2,1131.6 1798.8,1059.9 1799.2,1095.8 1799.8,1095.8 1800.2,1167.5 1800.8,1083.8 1801.2,1119.7 1801.8,1059.9 1802.2,1095.8 1802.8,1047.9 1803.2,1071.8 1803.8,1083.8 1804.2,1131.6 1804.8,1000.1 1805.2,1107.7 1805.8,1071.8 1806.2,1107.7 1806.8,1119.7 1807.2,1179.5 1807.8,1047.9 1808.2,1131.6 1808.8,1083.8 1809.2,1131.6 1809.8,1036 1810.2,1095.8 1810.8,1119.7 1811.2,1167.5 1811.8,1071.8 1812.2,1071.8 1812.8,1095.8 1813.2,1131.6 1813.8,1131.6 1814.2,1143.6 1814.8,1107.7 1815.2,1119.7 1815.8,1036 1816.2,1107.7 1816.8,1071.8 1817.2,1119.7 1817.8,1024 1818.2,1071.8 1818.8,1083.8 1819.2,1143.6 1819.8,1107.7 1820.2,1179.5 1820.8,1083.8 1821.2,1131.6 1821.8,1071.8 1822.2,1119.7 1822.8,1059.9 1823.2,1083.8 1823.8,1059.9 1824.2,1071.8 1824.8,1059.9 1825.2,1095.8 1825.8,1083.8 1826.2,1095.8 1826.8,1107.7 1827.2,1203.4 1827.8,1071.8 1828.2,1143.6 1828.8,1071.8 1829.2,1107.7 1829.8,1047.9 1830.2,1143.6 1830.8,1095.8 1831.2,1155.6 1831.8,1083.8 1832.2,1119.7 1832.8,1059.9 1833.2,1119.7 1833.8,1047.9 1834.2,1107.7 1834.8,1047.9 1835.2,1095.8 1835.8,1119.7 1836.2,1203.4 1836.8,1036 1837.2,1107.7 1837.8,1083.8 1838.2,1119.7 1838.8,1047.9 1839.2,1107.7 1839.8,1047.9 1840.2,1095.8 1840.8,1095.8 1841.2,1167.5 1841.8,1047.9 1842.2,1107.7 1842.8,1107.7 1843.2,1119.7 1843.8,1047.9 1844.2,1083.8 1844.8,1083.8 1845.2,1119.7 1845.8,1071.8 1846.2,1143.6 1846.8,1071.8 1847.2,1095.8 1847.8,1071.8 1848.2,1095.8 1848.8,1012 1849.2,1119.7 1849.8,1083.8 1850.2,1107.7 1850.8,1059.9 1851.2,1119.7 1851.8,1083.8 1852.2,1119.7 1852.8,1107.7 1853.2,1155.6 1853.8,1071.8 1854.2,1131.6 1854.8,1071.8 1855.2,1095.8 1855.8,1036 1856.2,1107.7 1856.8,1083.8 1857.2,1119.7 1857.8,1071.8 1858.2,1119.7 1858.8,1107.7 1859.2,1131.6 1859.8,1071.8 1860.2,1143.6 1860.8,1119.7 1861.2,1143.6 1861.8,1071.8 1862.2,1119.7 1862.8,1071.8 1863.2,1107.7 1863.8,1059.9 1864.2,1167.5 1864.8,1059.9 1865.2,1083.8 1865.8,1095.8 1866.2,1107.7 1866.8,1047.9 1867.2,1131.6 1867.8,1119.7 1868.2,1131.6 1868.8,1071.8 1869.2,1107.7 1869.8,1059.9 1870.2,1143.6 1870.8,1083.8 1871.2,1119.7 1871.8,1071.8 1872.2,1119.7 1872.8,1071.8 1873.2,1107.7 1873.8,1071.8 1874.2,1155.6 1874.8,1059.9 1875.2,1119.7 1875.8,1083.8 1876.2,1155.6 1876.8,1083.8 1877.2,1143.6 1877.8,1071.8 1878.2,1119.7 1878.8,1071.8 1879.2,1155.6 1879.8,1095.8 1880.2,1119.7 1880.8,1071.8 1881.2,1155.6 1881.8,1107.7 1882.2,1155.6 1882.8,1107.7 1883.2,1155.6 1883.8,1119.7 1884.2,1155.6 1884.8,1047.9 1885.2,1143.6 1885.8,1083.8 1886.2,1107.7 1886.8,1071.8 1887.2,1095.8 1887.8,1047.9 1888.2,1095.8 1888.8,1083.8 1889.2,1167.5 1889.8,1131.6 1890.2,1155.6 1890.8,1071.8 1891.2,1155.6 1891.8,1047.9 1892.2,1119.7 1892.8,1071.8 1893.2,1167.5 1893.8,1107.7 1894.2,1191.4 1894.8,1059.9 1895.2,1119.7 1895.8,1071.8 1896.2,1095.8 1896.8,1047.9 1897.2,1143.6 1897.8,1083.8 1898.2,1131.6 1898.8,1095.8 1899.2,1143.6 1899.8,1095.8 1900.2,1179.5 1900.8,1047.9 1901.2,1107.7 1901.8,1095.8 1902.2,1179.5 1902.8,1131.6 1903.2,1203.4 1903.8,1095.8 1904.2,1131.6 1904.8,1071.8 1905.2,1083.8 1905.8,1095.8 1906.2,1131.6 1906.8,1095.8 1907.2,1131.6 1907.8,1119.7 1908.2,1155.6 1908.8,1083.8 1909.2,1131.6 1909.8,1119.7 1910.2,1131.6 1910.8,1107.7 1911.2,1107.7 1911.8,1107.7 1912.2,1131.6 1912.8,1107.7 1913.2,1155.6 1913.8,1119.7 1914.2,1131.6 1914.8,1059.9 1915.2,1119.7 1915.8,1107.7 1916.2,1119.7 1916.8,1107.7 1917.2,1131.6 1917.8,1071.8 1918.2,1131.6 1918.8,1083.8 1919.2,1167.5 1919.8,1107.7 1920.2,1167.5 1920.8,1107.7 1921.2,1143.6 1921.8,1143.6 1922.2,1143.6 1922.8,1095.8 1923.2,1167.5 1923.8,1095.8 1924.2,1143.6 1924.8,1083.8 1925.2,1131.6 1925.8,1024 1926.2,1119.7 1926.8,1083.8 1927.2,1119.7 1927.8,1095.8 1928.2,1119.7 1928.8,1071.8 1929.2,1155.6 1929.8,1107.7 1930.2,1143.6 1930.8,1119.7 1931.2,1167.5 1931.8,1119.7 1932.2,1191.4 1932.8,1131.6 1933.2,1155.6 1933.8,1131.6 1934.2,1167.5 1934.8,1071.8 1935.2,1155.6 1935.8,1083.8 1936.2,1143.6 1936.8,1131.6 1937.2,1167.5 1937.8,1083.8 1938.2,1167.5 1938.8,1119.7 1939.2,1203.4 1939.8,1083.8 1940.2,1143.6 1940.8,1095.8 1941.2,1131.6 1941.8,1059.9 1942.2,1119.7 1942.8,1107.7 1943.2,1131.6 1943.8,1059.9 1944.2,1119.7 1944.8,1059.9 1945.2,1107.7 1945.8,1071.8 1946.2,1095.8 1946.8,1107.7 1947.2,1119.7 1947.8,1119.7 1948.2,1167.5 1948.8,1131.6 1949.2,1131.6 1949.8,1059.9 1950.2,1119.7 1950.8,1083.8 1951.2,1191.4 1951.8,1083.8 1952.2,1131.6 1952.8,1083.8 1953.2,1107.7 1953.8,1131.6 1954.2,1143.6 1954.8,1119.7 1955.2,1179.5 1955.8,1095.8 1956.2,1143.6 1956.8,1071.8 1957.2,1131.6 1957.8,1083.8 1958.2,1119.7 1958.8,1083.8 1959.2,1167.5 1959.8,1071.8 1960.2,1131.6 1960.8,1095.8 1961.2,1119.7 1961.8,1107.7 1962.2,1107.7 1962.8,1107.7 1963.2,1155.6 1963.8,1059.9 1964.2,1095.8 1964.8,1059.9 1965.2,1131.6 1965.8,1131.6 1966.2,1143.6 1966.8,1143.6 1967.2,1191.4 1967.8,1059.9 1968.2,1155.6 1968.8,1119.7 1969.2,1179.5 1969.8,1095.8 1970.2,1179.5 1970.8,1083.8 1971.2,1143.6 1971.8,1071.8 1972.2,1119.7 1972.8,1131.6 1973.2,1131.6 1973.8,1071.8 1974.2,1107.7 1974.8,1107.7 1975.2,1179.5 1975.8,1095.8 1976.2,1155.6 1976.8,1107.7 1977.2,1143.6 1977.8,1107.7 1978.2,1143.6 1978.8,1095.8 1979.2,1131.6 1979.8,1095.8 1980.2,1131.6 1980.8,1095.8 1981.2,1131.6 1981.8,1059.9 1982.2,1131.6 1982.8,1095.8 1983.2,1143.6 1983.8,1131.6 1984.2,1155.6 1984.8,1059.9 1985.2,1107.7 1985.8,1131.6 1986.2,1143.6 1986.8,1095.8 1987.2,1119.7 1987.8,1095.8 1988.2,1131.6 1988.8,1047.9 1989.2,1155.6 1989.8,1083.8 1990.2,1131.6 1990.8,1095.8 1991.2,1143.6 1991.8,1083.8 1992.2,1179.5 1992.8,1059.9 1993.2,1143.6 1993.8,1095.8 1994.2,1143.6 1994.8,1095.8 1995.2,1155.6 1995.8,1036 1996.2,1083.8 1996.8,1047.9 1997.2,1131.6 1997.8,1119.7 1998.2,1131.6 1998.8,1095.8 1999.2,1131.6 1999.8,1095.8 2000.2,1119.7 2000.8,1047.9 2001.2,1107.7 2001.8,1143.6 2002.2,1167.5 2002.8,1095.8 2003.2,1155.6 2003.8,1119.7 2004.2,1155.6 2004.8,1107.7 2005.2,1167.5 2005.8,1095.8 2006.2,1155.6 2006.8,1107.7 2007.2,1143.6 2007.8,1083.8 2008.2,1155.6 2008.8,1107.7 2009.2,1179.5 2009.8,1083.8 2010.2,1131.6 2010.8,1071.8 2011.2,1155.6 2011.8,1131.6 2012.2,1179.5 2012.8,1143.6 2013.2,1155.6 2013.8,1024 2014.2,1143.6 2014.8,1083.8 2015.2,1167.5 2015.8,1143.6 2016.2,1191.4 2016.8,1083.8 2017.2,1191.4 2017.8,1119.7 2018.2,1227.3 2018.8,1107.7 2019.2,1167.5 2019.8,1143.6 2020.2,1203.4 2020.8,1143.6 2021.2,1179.5 2021.8,1071.8 2022.2,1119.7 2022.8,1107.7 2023.2,1167.5 2023.8,1071.8 2024.2,1203.4 2024.8,1131.6 2025.2,1167.5 2025.8,1119.7 2026.2,1203.4 2026.8,1095.8 2027.2,1179.5 2027.8,1119.7 2028.2,1155.6 2028.8,1024 2029.2,1143.6 2029.8,1131.6 2030.2,1167.5 2030.8,1071.8 2031.2,1119.7 2031.8,1155.6 2032.2,1203.4 2032.8,1095.8 2033.2,1119.7 2033.8,1119.7 2034.2,1191.4 2034.8,1107.7 2035.2,1119.7 2035.8,1095.8 2036.2,1143.6 2036.8,1107.7 2037.2,1215.4 2037.8,1167.5 2038.2,1191.4 2038.8,1047.9 2039.2,1119.7 2039.8,1071.8 2040.2,1167.5 2040.8,1095.8 2041.2,1107.7 2041.8,1107.7 2042.2,1155.6 2042.8,1059.9 2043.2,1095.8 2043.8,1095.8 2044.2,1143.6 2044.8,1083.8 2045.2,1107.7 2045.8,1095.8 2046.2,1167.5 2046.8,1119.7 2047.2,1179.5 2047.8,1083.8 2048.2,1131.6 2048.8,1131.6 2049.2,1155.6 2049.8,1036 2050.2,1107.7 2050.8,1071.8 2051.2,1131.6 2051.8,1095.8 2052.2,1191.4 2052.8,1155.6 2053.2,1203.4 2053.8,1095.8 2054.2,1107.7 2054.8,1083.8 2055.2,1179.5 2055.8,1107.7 2056.2,1155.6 2056.8,1047.9 2057.2,1131.6 2057.8,1083.8 2058.2,1143.6 2058.8,1095.8 2059.2,1143.6 2059.8,1083.8 2060.2,1215.4 2060.8,1107.7 2061.2,1143.6 2061.8,1119.7 2062.2,1155.6 2062.8,1083.8 2063.2,1143.6 2063.8,1107.7 2064.2,1179.5 2064.8,1119.7 2065.2,1167.5 2065.8,1095.8 2066.2,1167.5 2066.8,1059.9 2067.2,1155.6 2067.8,1059.9 2068.2,1143.6 2068.8,1119.7 2069.2,1155.6 2069.8,1107.7 2070.2,1179.5 2070.8,1155.6 2071.2,1167.5 2071.8,1119.7 2072.2,1155.6 2072.8,1095.8 2073.2,1119.7 2073.8,1071.8 2074.2,1167.5 2074.8,1119.7 2075.2,1215.4 2075.8,1131.6 2076.2,1155.6 2076.8,1119.7 2077.2,1167.5 2077.8,1095.8 2078.2,1131.6 2078.8,1083.8 2079.2,1143.6 2079.8,1131.6 2080.2,1179.5 2080.8,1119.7 2081.2,1167.5 2081.8,1107.7 2082.2,1131.6 2082.8,1107.7 2083.2,1167.5 2083.8,1071.8 2084.2,1143.6 2084.8,1131.6 2085.2,1155.6 2085.8,1131.6 2086.2,1203.4 2086.8,1131.6 2087.2,1167.5 2087.8,1107.7 2088.2,1167.5 2088.8,1107.7 2089.2,1167.5 2089.8,1095.8 2090.2,1167.5 2090.8,1071.8 2091.2,1131.6 2091.8,1059.9 2092.2,1107.7 2092.8,1083.8 2093.2,1131.6 2093.8,1095.8 2094.2,1143.6 2094.8,1107.7 2095.2,1131.6 2095.8,1083.8 2096.2,1179.5 2096.8,1143.6 2097.2,1179.5 2097.8,1143.6 2098.2,1179.5 2098.8,1119.7 2099.2,1155.6 2099.8,1083.8 2100.2,1131.6 2100.8,1107.7 2101.2,1131.6 2101.8,1107.7 2102.2,1179.5 2102.8,1083.8 2103.2,1191.4 2103.8,1107.7 2104.2,1131.6 2104.8,1047.9 2105.2,1107.7 2105.8,1143.6 2106.2,1227.3 2106.8,1095.8 2107.2,1131.6 2107.8,1107.7 2108.2,1167.5 2108.8,1107.7 2109.2,1167.5 2109.8,1083.8 2110.2,1143.6 2110.8,1083.8 2111.2,1119.7 2111.8,1095.8 2112.2,1143.6 2112.8,1095.8 2113.2,1191.4 2113.8,1083.8 2114.2,1179.5 2114.8,1095.8 2115.2,1179.5 2115.8,1071.8 2116.2,1155.6 2116.8,1059.9 2117.2,1155.6 2117.8,1131.6 2118.2,1179.5 2118.8,1119.7 2119.2,1143.6 2119.8,1083.8 2120.2,1131.6 2120.8,1107.7 2121.2,1143.6 2121.8,1107.7 2122.2,1143.6 2122.8,1119.7 2123.2,1167.5 2123.8,1131.6 2124.2,1179.5 2124.8,1107.7 2125.2,1239.3 2125.8,1083.8 2126.2,1143.6 2126.8,1047.9 2127.2,1155.6 2127.8,1083.8 2128.2,1095.8 2128.8,1071.8 2129.2,1167.5 2129.8,1071.8 2130.2,1143.6 2130.8,1119.7 2131.2,1167.5 2131.8,1059.9 2132.2,1155.6 2132.8,1107.7 2133.2,1167.5 2133.8,1119.7 2134.2,1179.5 2134.8,1119.7 2135.2,1293.1 2135.8,1143.6 2136.2,1167.5 2136.8,1107.7 2137.2,1143.6 2137.8,1131.6 2138.2,1155.6 2138.8,1107.7 2139.2,1143.6 2139.8,1107.7 2140.2,1215.4 2140.8,1143.6 2141.2,1167.5 2141.8,1119.7 2142.2,1167.5 2142.8,1071.8 2143.2,1179.5 2143.8,1059.9 2144.2,1179.5 2144.8,1119.7 2145.2,1143.6 2145.8,1107.7 2146.2,1179.5 2146.8,1143.6 2147.2,1167.5 2147.8,1095.8 2148.2,1143.6 2148.8,1143.6 2149.2,1203.4 2149.8,1107.7 2150.2,1143.6 2150.8,1071.8 2151.2,1167.5 2151.8,1083.8 2152.2,1167.5 2152.8,1119.7 2153.2,1191.4 2153.8,1143.6 2154.2,1203.4 2154.8,1095.8 2155.2,1131.6 2155.8,1131.6 2156.2,1191.4 2156.8,1071.8 2157.2,1167.5 2157.8,1107.7 2158.2,1143.6 2158.8,1119.7 2159.2,1179.5 2159.8,1143.6 2160.2,1191.4 2160.8,1059.9 2161.2,1131.6 2161.8,1143.6 2162.2,1179.5 2162.8,1095.8 2163.2,1155.6 2163.8,1095.8 2164.2,1191.4 2164.8,1119.7 2165.2,1131.6 2165.8,1083.8 2166.2,1119.7 2166.8,1107.7 2167.2,1191.4 2167.8,1024 2168.2,1215.4 2168.8,1071.8 2169.2,1179.5 2169.8,1083.8 2170.2,1179.5 2170.8,1107.7 2171.2,1191.4 2171.8,1107.7 2172.2,1119.7 2172.8,1131.6 2173.2,1203.4"/>
</g>
<g id="legend">
<rect x="1291" y="60" width="852" height="205" fill="#fff"/>
<path fill="#000" fill-rule="evenodd" shape-rendering="crispEdges" d="M1291,60H2143V265H1291Z M1294,64H2139V262H1294Z"/>
<rect x="1315" y="114" width="115" height="3" fill="#00ff00" shape-rendering="crispEdges"/>
<rect x="1315" y="208" width="115" height="4" fill="#ff0000" shape-rendering="crispEdges"/>
<text transform="translate(1442.2,143.6) scale(0.9655,1)">With trigger pulses</text>
<text transform="translate(1442.2,237.6) scale(0.9645,1)">Without trigger pulses</text>
</g>
<g id="ylabels" text-anchor="end">
<text transform="translate(225,154.8) scale(0.93,1.02)">2.5</text>
<text transform="translate(225,393.8) scale(0.93,1.02)">2.0</text>
<text transform="translate(225,633.8) scale(0.93,1.02)">1.5</text>
<text transform="translate(225,872.8) scale(0.93,1.02)">1.0</text>
<text transform="translate(225,1111.8) scale(0.93,1.02)">0.5</text>
<text transform="translate(225,1350.8) scale(0.93,1.02)">0.0</text>
<text transform="translate(225,1589.8) scale(0.93,1.02)">-0.5</text>
</g>
<g id="xlabels" text-anchor="middle">
<text transform="translate(252,1659.2) scale(0.945,1.025)">0</text>
<text transform="translate(491.8,1659.2) scale(0.945,1.025)">5</text>
<text transform="translate(731.5,1659.2) scale(0.945,1.025)">10</text>
<text transform="translate(971.2,1659.2) scale(0.945,1.025)">15</text>
<text transform="translate(1211,1659.2) scale(0.945,1.025)">20</text>
<text transform="translate(1450.8,1659.2) scale(0.945,1.025)">25</text>
<text transform="translate(1690.5,1659.2) scale(0.945,1.025)">30</text>
<text transform="translate(1930.2,1659.2) scale(0.945,1.025)">35</text>
<text transform="translate(2170,1659.2) scale(0.945,1.025)">40</text>
</g>
<text id="xtitle" text-anchor="middle" transform="translate(1209.3,1755) scale(0.9606,1)">Time [s]</text>
<text id="ytitle" text-anchor="middle" transform="translate(79.7,798) rotate(-90) scale(1.006,0.96)">Temperature Increase [K]</text>
</svg>
</body>
</html>
